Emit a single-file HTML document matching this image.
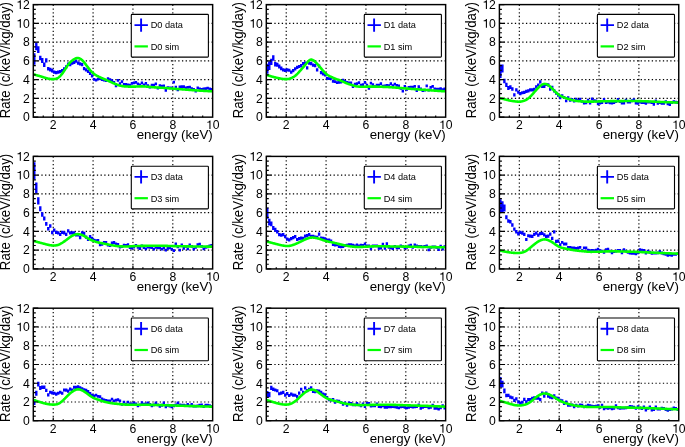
<!DOCTYPE html>
<html><head><meta charset="utf-8"><style>
html,body{margin:0;padding:0;background:#fff;}
svg{display:block;will-change:transform;}
</style></head><body>
<svg width="685" height="447" viewBox="0 0 685 447">
<rect width="685" height="447" fill="#fff"/>
<clipPath id="clip0"><rect x="33.30" y="4.60" width="179.35" height="112.55"/></clipPath>
<path d="M53.23 4.75V117.15M93.08 4.75V117.15M132.94 4.75V117.15M172.80 4.75V117.15M33.95 98.39H212.65M33.95 79.63H212.65M33.95 60.87H212.65M33.95 42.12H212.65M33.95 23.36H212.65" stroke="#000" stroke-width="1.15" stroke-dasharray="1.3 2.4" fill="none"/>
<g clip-path="url(#clip0)"><path d="M33.10 53.20H35.49V64.80H33.10ZM35.09 42.44H37.49V50.24H35.09ZM37.09 46.32H39.48V52.92H37.09ZM39.08 55.86H41.47V60.26H39.08ZM41.07 58.09H43.46V63.09H41.07ZM43.06 62.61H45.46V67.01H43.06ZM45.06 58.21H47.45V62.61H45.06ZM47.05 67.05H49.44V70.45H47.05ZM49.04 67.70H51.44V71.50H49.04ZM51.04 68.82H53.43V72.62H51.04ZM53.03 70.53H55.42V73.73H53.03ZM55.02 71.00H57.41V74.20H55.02ZM57.01 70.53H59.41V73.73H57.01ZM59.01 70.06H61.40V73.26H59.01ZM61.00 69.12H63.39V72.32H61.00ZM62.99 67.25H65.38V70.45H62.99ZM64.98 65.37H67.38V68.57H64.98ZM66.98 62.56H69.37V65.76H66.98ZM68.97 63.03H71.36V66.23H68.97ZM70.96 61.62H73.36V64.82H70.96ZM72.96 60.68H75.35V63.88H72.96ZM74.95 59.56H77.34V62.76H74.95ZM76.94 61.53H79.33V64.73H76.94ZM78.93 62.37H81.33V65.57H78.93ZM80.93 63.03H83.32V66.23H80.93ZM82.92 67.06H85.31V70.26H82.92ZM84.91 68.19H87.31V71.39H84.91ZM86.91 69.87H89.30V73.07H86.91ZM88.90 71.84H91.29V75.04H88.90ZM90.89 74.28H93.28V77.48H90.89ZM92.88 77.95H95.28V80.75H92.88ZM94.88 78.70H97.27V81.50H94.88ZM96.87 77.76H99.26V80.56H96.87ZM98.86 77.30H101.26V80.10H98.86ZM100.86 78.23H103.25V81.03H100.86ZM102.85 78.70H105.24V81.50H102.85ZM104.84 79.17H107.23V81.97H104.84ZM106.83 77.30H109.23V80.10H106.83ZM108.83 78.23H111.22V81.03H108.83ZM110.82 79.17H113.21V81.97H110.82ZM112.81 81.05H115.20V83.85H112.81ZM114.80 84.33H117.20V87.13H114.80ZM116.80 78.98H119.19V81.78H116.80ZM118.79 82.36H121.18V85.16H118.79ZM120.78 80.30H123.18V83.10H120.78ZM122.78 82.92H125.17V85.72H122.78ZM124.77 83.11H127.16V85.91H124.77ZM126.76 83.39H129.15V86.19H126.76ZM128.75 83.86H131.15V86.66H128.75ZM130.75 81.98H133.14V84.78H130.75ZM132.74 81.52H135.13V84.32H132.74ZM134.73 81.05H137.13V83.85H134.73ZM136.73 82.45H139.12V85.25H136.73ZM138.72 83.39H141.11V86.19H138.72ZM140.71 81.52H143.10V84.32H140.71ZM142.70 83.39H145.10V86.19H142.70ZM144.70 81.98H147.09V84.78H144.70ZM146.69 84.14H149.08V86.94H146.69ZM148.68 85.74H151.08V88.54H148.68ZM150.68 83.67H153.07V86.47H150.68ZM152.67 83.67H155.06V86.47H152.67ZM154.66 82.45H157.05V85.25H154.66ZM156.65 86.67H159.05V89.47H156.65ZM158.65 84.33H161.04V87.13H158.65ZM160.64 84.80H163.03V87.60H160.64ZM162.63 84.52H165.02V87.32H162.63ZM164.62 89.02H167.02V91.82H164.62ZM166.62 86.21H169.01V89.01H166.62ZM168.61 86.49H171.00V89.29H168.61ZM170.60 86.49H173.00V89.29H170.60ZM172.60 80.77H174.99V83.57H172.60ZM174.59 85.74H176.98V88.54H174.59ZM176.58 88.55H178.97V91.35H176.58ZM178.57 85.55H180.97V88.35H178.57ZM180.57 85.27H182.96V88.07H180.57ZM182.56 85.27H184.95V88.07H182.56ZM184.55 86.49H186.95V89.29H184.55ZM186.55 85.92H188.94V88.72H186.55ZM188.54 85.74H190.93V88.54H188.54ZM190.53 87.14H192.92V89.94H190.53ZM192.52 88.08H194.92V90.88H192.52ZM194.52 89.68H196.91V92.48H194.52ZM196.51 86.49H198.90V89.29H196.51ZM198.50 87.61H200.90V90.41H198.50ZM200.50 87.89H202.89V90.69H200.50ZM202.49 87.61H204.88V90.41H202.49ZM204.48 87.14H206.87V89.94H204.48ZM206.47 86.67H208.87V89.47H206.47ZM208.47 87.61H210.86V90.41H208.47ZM210.46 88.08H212.85V90.88H210.46Z" fill="#0000ff"/>
<polyline points="33.30,74.29 33.70,74.40 34.10,74.51 34.50,74.62 34.89,74.73 35.29,74.84 35.69,74.95 36.09,75.07 36.49,75.18 36.89,75.29 37.29,75.41 37.68,75.52 38.08,75.64 38.48,75.75 38.88,75.87 39.28,75.99 39.68,76.11 40.08,76.22 40.47,76.34 40.87,76.46 41.27,76.58 41.67,76.71 42.07,76.83 42.47,76.95 42.87,77.07 43.26,77.19 43.66,77.32 44.06,77.44 44.46,77.56 44.86,77.68 45.26,77.80 45.66,77.92 46.05,78.03 46.45,78.15 46.85,78.25 47.25,78.36 47.65,78.46 48.05,78.56 48.45,78.65 48.84,78.73 49.24,78.81 49.64,78.88 50.04,78.95 50.44,79.01 50.84,79.06 51.24,79.10 51.63,79.13 52.03,79.16 52.43,79.17 52.83,79.17 53.23,79.16 53.63,79.15 54.03,79.11 54.42,79.07 54.82,79.01 55.22,78.93 55.62,78.83 56.02,78.72 56.42,78.58 56.82,78.42 57.21,78.24 57.61,78.03 58.01,77.79 58.41,77.53 58.81,77.24 59.21,76.92 59.60,76.57 60.00,76.20 60.40,75.80 60.80,75.37 61.20,74.92 61.60,74.45 62.00,73.95 62.39,73.43 62.79,72.88 63.19,72.32 63.59,71.73 63.99,71.13 64.39,70.51 64.79,69.88 65.18,69.25 65.58,68.61 65.98,67.98 66.38,67.35 66.78,66.74 67.18,66.13 67.58,65.55 67.97,64.99 68.37,64.46 68.77,63.95 69.17,63.47 69.57,63.01 69.97,62.58 70.37,62.18 70.76,61.79 71.16,61.42 71.56,61.07 71.96,60.74 72.36,60.43 72.76,60.13 73.16,59.84 73.55,59.57 73.95,59.31 74.35,59.07 74.75,58.85 75.15,58.65 75.55,58.48 75.95,58.33 76.34,58.21 76.74,58.12 77.14,58.06 77.54,58.04 77.94,58.05 78.34,58.10 78.74,58.18 79.13,58.30 79.53,58.45 79.93,58.63 80.33,58.84 80.73,59.08 81.13,59.35 81.53,59.66 81.92,59.99 82.32,60.35 82.72,60.74 83.12,61.16 83.52,61.60 83.92,62.07 84.32,62.56 84.71,63.06 85.11,63.58 85.51,64.12 85.91,64.66 86.31,65.20 86.71,65.75 87.11,66.29 87.50,66.83 87.90,67.37 88.30,67.89 88.70,68.40 89.10,68.89 89.50,69.37 89.90,69.84 90.29,70.30 90.69,70.74 91.09,71.16 91.49,71.57 91.89,71.97 92.29,72.35 92.69,72.72 93.08,73.07 93.48,73.40 93.88,73.72 94.28,74.03 94.68,74.32 95.08,74.59 95.48,74.86 95.87,75.11 96.27,75.36 96.67,75.59 97.07,75.82 97.47,76.04 97.87,76.25 98.27,76.45 98.66,76.65 99.06,76.84 99.46,77.03 99.86,77.22 100.26,77.40 100.66,77.58 101.06,77.75 101.45,77.92 101.85,78.09 102.25,78.26 102.65,78.43 103.05,78.60 103.45,78.77 103.85,78.94 104.24,79.11 104.64,79.28 105.04,79.45 105.44,79.62 105.84,79.79 106.24,79.97 106.64,80.14 107.03,80.32 107.43,80.49 107.83,80.67 108.23,80.85 108.63,81.03 109.03,81.21 109.42,81.39 109.82,81.57 110.22,81.75 110.62,81.93 111.02,82.12 111.42,82.30 111.82,82.48 112.21,82.66 112.61,82.83 113.01,83.01 113.41,83.18 113.81,83.36 114.21,83.53 114.61,83.69 115.00,83.86 115.40,84.02 115.80,84.18 116.20,84.33 116.60,84.49 117.00,84.63 117.40,84.77 117.79,84.91 118.19,85.05 118.59,85.17 118.99,85.30 119.39,85.41 119.79,85.52 120.19,85.63 120.58,85.73 120.98,85.82 121.38,85.91 121.78,85.99 122.18,86.07 122.58,86.14 122.98,86.20 123.37,86.25 123.77,86.30 124.17,86.35 124.57,86.39 124.97,86.42 125.37,86.45 125.77,86.47 126.16,86.50 126.56,86.52 126.96,86.54 127.36,86.55 127.76,86.57 128.16,86.58 128.56,86.60 128.95,86.61 129.35,86.62 129.75,86.63 130.15,86.64 130.55,86.65 130.95,86.66 131.35,86.67 131.74,86.67 132.14,86.67 132.54,86.67 132.94,86.67 133.34,86.66 133.74,86.65 134.14,86.64 134.53,86.63 134.93,86.62 135.33,86.60 135.73,86.58 136.13,86.57 136.53,86.55 136.93,86.53 137.32,86.51 137.72,86.49 138.12,86.47 138.52,86.46 138.92,86.44 139.32,86.42 139.72,86.41 140.11,86.40 140.51,86.39 140.91,86.38 141.31,86.38 141.71,86.37 142.11,86.37 142.51,86.38 142.90,86.39 143.30,86.40 143.70,86.41 144.10,86.43 144.50,86.45 144.90,86.48 145.30,86.51 145.69,86.54 146.09,86.57 146.49,86.60 146.89,86.64 147.29,86.68 147.69,86.71 148.09,86.75 148.48,86.79 148.88,86.84 149.28,86.88 149.68,86.92 150.08,86.96 150.48,87.00 150.88,87.04 151.27,87.08 151.67,87.12 152.07,87.16 152.47,87.20 152.87,87.23 153.27,87.26 153.67,87.29 154.06,87.32 154.46,87.35 154.86,87.38 155.26,87.40 155.66,87.42 156.06,87.45 156.46,87.47 156.85,87.49 157.25,87.51 157.65,87.53 158.05,87.55 158.45,87.57 158.85,87.58 159.24,87.60 159.64,87.62 160.04,87.64 160.44,87.66 160.84,87.68 161.24,87.70 161.64,87.72 162.03,87.75 162.43,87.77 162.83,87.79 163.23,87.82 163.63,87.85 164.03,87.87 164.43,87.90 164.82,87.93 165.22,87.97 165.62,88.00 166.02,88.03 166.42,88.06 166.82,88.10 167.22,88.13 167.61,88.17 168.01,88.21 168.41,88.24 168.81,88.28 169.21,88.31 169.61,88.35 170.01,88.39 170.40,88.42 170.80,88.46 171.20,88.50 171.60,88.53 172.00,88.57 172.40,88.60 172.80,88.64 173.19,88.67 173.59,88.70 173.99,88.74 174.39,88.77 174.79,88.80 175.19,88.83 175.59,88.86 175.98,88.89 176.38,88.92 176.78,88.95 177.18,88.98 177.58,89.01 177.98,89.04 178.38,89.07 178.77,89.10 179.17,89.13 179.57,89.16 179.97,89.19 180.37,89.21 180.77,89.24 181.17,89.27 181.56,89.30 181.96,89.33 182.36,89.36 182.76,89.39 183.16,89.42 183.56,89.45 183.96,89.48 184.35,89.51 184.75,89.54 185.15,89.57 185.55,89.60 185.95,89.63 186.35,89.66 186.75,89.69 187.14,89.72 187.54,89.75 187.94,89.78 188.34,89.81 188.74,89.84 189.14,89.87 189.54,89.90 189.93,89.93 190.33,89.96 190.73,89.99 191.13,90.02 191.53,90.05 191.93,90.08 192.33,90.11 192.72,90.14 193.12,90.17 193.52,90.20 193.92,90.22 194.32,90.25 194.72,90.28 195.12,90.31 195.51,90.33 195.91,90.36 196.31,90.39 196.71,90.42 197.11,90.44 197.51,90.47 197.91,90.50 198.30,90.52 198.70,90.55 199.10,90.57 199.50,90.60 199.90,90.62 200.30,90.65 200.70,90.67 201.09,90.70 201.49,90.72 201.89,90.75 202.29,90.77 202.69,90.79 203.09,90.82 203.49,90.84 203.88,90.87 204.28,90.89 204.68,90.91 205.08,90.94 205.48,90.96 205.88,90.98 206.28,91.00 206.67,91.03 207.07,91.05 207.47,91.07 207.87,91.09 208.27,91.12 208.67,91.14 209.06,91.16 209.46,91.18 209.86,91.20 210.26,91.23 210.66,91.25 211.06,91.27 211.46,91.29 211.85,91.31 212.25,91.34 212.65,91.36" stroke="#00ff00" stroke-width="2.6" fill="none" stroke-linejoin="round"/></g>
<rect x="33.30" y="4.60" width="179.35" height="112.55" stroke="#000" stroke-width="1.45" fill="none"/>
<path d="M33.30 117.15h5.0M33.30 112.46h2.5M33.30 107.77h2.5M33.30 103.08h2.5M33.30 98.39h5.0M33.30 93.70h2.5M33.30 89.01h2.5M33.30 84.32h2.5M33.30 79.63h5.0M33.30 74.94h2.5M33.30 70.25h2.5M33.30 65.56h2.5M33.30 60.87h5.0M33.30 56.19h2.5M33.30 51.50h2.5M33.30 46.81h2.5M33.30 42.12h5.0M33.30 37.43h2.5M33.30 32.74h2.5M33.30 28.05h2.5M33.30 23.36h5.0M33.30 18.67h2.5M33.30 13.98h2.5M33.30 9.29h2.5M33.30 4.60h5.0M43.26 117.15v-1.6M53.23 117.15v-3.2M63.19 117.15v-1.6M73.16 117.15v-1.6M83.12 117.15v-1.6M93.08 117.15v-3.2M103.05 117.15v-1.6M113.01 117.15v-1.6M122.98 117.15v-1.6M132.94 117.15v-3.2M142.90 117.15v-1.6M152.87 117.15v-1.6M162.83 117.15v-1.6M172.80 117.15v-3.2M182.76 117.15v-1.6M192.72 117.15v-1.6M202.69 117.15v-1.6" stroke="#000" stroke-width="1.2" fill="none"/>
<text x="23.02" y="121.45" font-size="12.2" font-family="Liberation Sans, sans-serif">0</text>
<text x="23.02" y="102.69" font-size="12.2" font-family="Liberation Sans, sans-serif">2</text>
<text x="23.02" y="83.93" font-size="12.2" font-family="Liberation Sans, sans-serif">4</text>
<text x="23.02" y="65.17" font-size="12.2" font-family="Liberation Sans, sans-serif">6</text>
<text x="23.02" y="46.42" font-size="12.2" font-family="Liberation Sans, sans-serif">8</text>
<path transform="translate(16.23 27.66) scale(12.2 -12.2)" d="M0.290 0L0.378 0L0.378 0.703L0.306 0.703C0.290 0.628 0.228 0.592 0.105 0.588L0.105 0.527L0.290 0.527Z"/>
<text x="23.02" y="27.66" font-size="12.2" font-family="Liberation Sans, sans-serif">0</text>
<path transform="translate(16.23 8.90) scale(12.2 -12.2)" d="M0.290 0L0.378 0L0.378 0.703L0.306 0.703C0.290 0.628 0.228 0.592 0.105 0.588L0.105 0.527L0.290 0.527Z"/>
<text x="23.02" y="8.90" font-size="12.2" font-family="Liberation Sans, sans-serif">2</text>
<text x="49.84" y="129.05" font-size="12.2" font-family="Liberation Sans, sans-serif">2</text>
<text x="89.69" y="129.05" font-size="12.2" font-family="Liberation Sans, sans-serif">4</text>
<text x="129.55" y="129.05" font-size="12.2" font-family="Liberation Sans, sans-serif">6</text>
<text x="169.40" y="129.05" font-size="12.2" font-family="Liberation Sans, sans-serif">8</text>
<path transform="translate(205.87 129.05) scale(12.2 -12.2)" d="M0.290 0L0.378 0L0.378 0.703L0.306 0.703C0.290 0.628 0.228 0.592 0.105 0.588L0.105 0.527L0.290 0.527Z"/>
<text x="212.65" y="129.05" font-size="12.2" font-family="Liberation Sans, sans-serif">0</text>
<text x="212.75" y="139.35" text-anchor="end" font-size="13.3" font-family="Liberation Sans, sans-serif">energy (keV)</text>
<text transform="translate(9.80 2.00) rotate(-90) scale(1 1.07)" text-anchor="end" font-size="13.25" font-family="Liberation Sans, sans-serif">Rate (c/keV/kg/day)</text>
<rect x="131.30" y="14.40" width="77.10" height="42.70" rx="0.8" fill="#fff" stroke="#000" stroke-width="1.1"/>
<path d="M134.50 25.10h13.4M141.10 18.50v13.2" stroke="#0000ff" stroke-width="1.9" fill="none"/>
<path d="M134.50 46.40h13.4" stroke="#00ff00" stroke-width="2.2" fill="none"/>
<text x="150.70" y="28.00" font-size="9.2" font-family="Liberation Sans, sans-serif">D0 data</text>
<text x="150.70" y="49.80" font-size="9.2" font-family="Liberation Sans, sans-serif">D0 sim</text>
<clipPath id="clip1"><rect x="266.30" y="4.60" width="179.35" height="112.55"/></clipPath>
<path d="M286.23 4.75V117.15M326.08 4.75V117.15M365.94 4.75V117.15M405.80 4.75V117.15M266.95 98.39H445.65M266.95 79.63H445.65M266.95 60.87H445.65M266.95 42.12H445.65M266.95 23.36H445.65" stroke="#000" stroke-width="1.15" stroke-dasharray="1.3 2.4" fill="none"/>
<g clip-path="url(#clip1)"><path d="M266.10 63.75H268.49V73.75H266.10ZM268.09 61.16H270.49V69.96H268.09ZM270.09 58.71H272.48V64.91H270.09ZM272.08 55.26H274.47V60.86H272.08ZM274.07 62.05H276.46V66.45H274.07ZM276.06 62.63H278.46V66.63H276.06ZM278.06 64.50H280.45V68.50H278.06ZM280.05 66.58H282.44V70.18H280.05ZM282.04 68.19H284.44V71.39H282.04ZM284.04 68.84H286.43V72.04H284.04ZM286.03 68.19H288.42V71.39H286.03ZM288.02 68.65H290.41V71.85H288.02ZM290.01 70.53H292.41V73.73H290.01ZM292.01 69.12H294.40V72.32H292.01ZM294.00 67.25H296.39V70.45H294.00ZM295.99 65.84H298.38V69.04H295.99ZM297.98 64.90H300.38V68.10H297.98ZM299.98 63.96H302.37V67.16H299.98ZM301.97 62.09H304.36V65.29H301.97ZM303.96 61.62H306.36V64.82H303.96ZM305.96 66.31H308.35V69.51H305.96ZM307.95 61.53H310.34V64.73H307.95ZM309.94 62.09H312.33V65.29H309.94ZM311.93 63.50H314.33V66.70H311.93ZM313.93 63.96H316.32V67.16H313.93ZM315.92 68.28H318.31V71.48H315.92ZM317.91 64.43H320.31V67.63H317.91ZM319.91 71.00H322.30V74.20H319.91ZM321.90 72.22H324.29V75.42H321.90ZM323.89 73.34H326.28V76.54H323.89ZM325.88 77.01H328.28V79.81H325.88ZM327.88 77.30H330.27V80.10H327.88ZM329.87 76.83H332.26V79.63H329.87ZM331.86 79.83H334.26V82.63H331.86ZM333.86 80.30H336.25V83.10H333.86ZM335.85 81.23H338.24V84.03H335.85ZM337.84 80.86H340.23V83.66H337.84ZM339.83 80.58H342.23V83.38H339.83ZM341.83 78.70H344.22V81.50H341.83ZM343.82 80.11H346.21V82.91H343.82ZM345.81 81.05H348.20V83.85H345.81ZM347.80 81.52H350.20V84.32H347.80ZM349.80 81.52H352.19V84.32H349.80ZM351.79 85.27H354.18V88.07H351.79ZM353.78 82.74H356.18V85.54H353.78ZM355.78 82.27H358.17V85.07H355.78ZM357.77 81.23H360.16V84.03H357.77ZM359.76 83.67H362.15V86.47H359.76ZM361.75 83.30H364.15V86.10H361.75ZM363.75 81.05H366.14V83.85H363.75ZM365.74 83.67H368.13V86.47H365.74ZM367.73 87.05H370.13V89.85H367.73ZM369.73 81.80H372.12V84.60H369.73ZM371.72 83.30H374.11V86.10H371.72ZM373.71 84.99H376.10V87.79H373.71ZM375.70 83.67H378.10V86.47H375.70ZM377.70 83.86H380.09V86.66H377.70ZM379.69 82.17H382.08V84.97H379.69ZM381.68 84.80H384.08V87.60H381.68ZM383.68 84.52H386.07V87.32H383.68ZM385.67 84.05H388.06V86.85H385.67ZM387.66 84.33H390.05V87.13H387.66ZM389.65 82.36H392.05V85.16H389.65ZM391.65 84.33H394.04V87.13H391.65ZM393.64 82.64H396.03V85.44H393.64ZM395.63 84.05H398.02V86.85H395.63ZM397.62 84.52H400.02V87.32H397.62ZM399.62 86.96H402.01V89.76H399.62ZM401.61 89.58H404.00V92.38H401.61ZM403.60 84.99H406.00V87.79H403.60ZM405.60 87.99H407.99V90.79H405.60ZM407.59 86.11H409.98V88.91H407.59ZM409.58 85.64H411.97V88.44H409.58ZM411.57 85.64H413.97V88.44H411.57ZM413.57 84.99H415.96V87.79H413.57ZM415.56 89.11H417.95V91.91H415.56ZM417.55 85.17H419.95V87.97H417.55ZM419.55 87.42H421.94V90.22H419.55ZM421.54 89.11H423.93V91.91H421.54ZM423.53 88.74H425.92V91.54H423.53ZM425.52 84.52H427.92V87.32H425.52ZM427.52 88.74H429.91V91.54H427.52ZM429.51 85.92H431.90V88.72H429.51ZM431.50 84.99H433.90V87.79H431.50ZM433.50 87.42H435.89V90.22H433.50ZM435.49 87.80H437.88V90.60H435.49ZM437.48 87.80H439.87V90.60H437.48ZM439.47 87.24H441.87V90.04H439.47ZM441.47 88.27H443.86V91.07H441.47ZM443.46 87.61H445.85V90.41H443.46Z" fill="#0000ff"/>
<polyline points="266.30,74.85 266.70,74.97 267.10,75.10 267.50,75.22 267.89,75.34 268.29,75.46 268.69,75.58 269.09,75.70 269.49,75.82 269.89,75.94 270.29,76.06 270.68,76.18 271.08,76.29 271.48,76.41 271.88,76.52 272.28,76.63 272.68,76.74 273.08,76.85 273.47,76.96 273.87,77.06 274.27,77.17 274.67,77.27 275.07,77.37 275.47,77.47 275.87,77.57 276.26,77.66 276.66,77.76 277.06,77.85 277.46,77.94 277.86,78.03 278.26,78.11 278.66,78.20 279.05,78.28 279.45,78.36 279.85,78.44 280.25,78.52 280.65,78.59 281.05,78.66 281.45,78.73 281.84,78.80 282.24,78.86 282.64,78.92 283.04,78.97 283.44,79.02 283.84,79.06 284.24,79.10 284.63,79.13 285.03,79.15 285.43,79.17 285.83,79.17 286.23,79.16 286.63,79.15 287.03,79.12 287.42,79.08 287.82,79.04 288.22,78.98 288.62,78.90 289.02,78.82 289.42,78.72 289.82,78.62 290.21,78.49 290.61,78.36 291.01,78.21 291.41,78.05 291.81,77.88 292.21,77.69 292.60,77.48 293.00,77.26 293.40,77.03 293.80,76.78 294.20,76.52 294.60,76.23 295.00,75.94 295.39,75.62 295.79,75.29 296.19,74.94 296.59,74.58 296.99,74.20 297.39,73.80 297.79,73.39 298.18,72.97 298.58,72.54 298.98,72.10 299.38,71.65 299.78,71.20 300.18,70.74 300.58,70.29 300.97,69.83 301.37,69.37 301.77,68.91 302.17,68.45 302.57,68.00 302.97,67.54 303.37,67.08 303.76,66.62 304.16,66.16 304.56,65.69 304.96,65.22 305.36,64.75 305.76,64.27 306.16,63.78 306.55,63.29 306.95,62.80 307.35,62.32 307.75,61.86 308.15,61.42 308.55,61.01 308.95,60.64 309.34,60.32 309.74,60.05 310.14,59.84 310.54,59.70 310.94,59.63 311.34,59.62 311.74,59.66 312.13,59.76 312.53,59.90 312.93,60.09 313.33,60.32 313.73,60.59 314.13,60.89 314.53,61.22 314.92,61.58 315.32,61.95 315.72,62.35 316.12,62.75 316.52,63.17 316.92,63.59 317.32,64.02 317.71,64.45 318.11,64.90 318.51,65.35 318.91,65.80 319.31,66.26 319.71,66.73 320.11,67.19 320.50,67.67 320.90,68.14 321.30,68.62 321.70,69.09 322.10,69.57 322.50,70.04 322.90,70.51 323.29,70.97 323.69,71.42 324.09,71.86 324.49,72.29 324.89,72.70 325.29,73.09 325.69,73.47 326.08,73.82 326.48,74.15 326.88,74.45 327.28,74.74 327.68,75.01 328.08,75.26 328.48,75.50 328.87,75.73 329.27,75.94 329.67,76.15 330.07,76.34 330.47,76.54 330.87,76.73 331.27,76.91 331.66,77.10 332.06,77.28 332.46,77.47 332.86,77.65 333.26,77.83 333.66,78.00 334.06,78.17 334.45,78.34 334.85,78.51 335.25,78.67 335.65,78.83 336.05,78.98 336.45,79.12 336.85,79.27 337.24,79.40 337.64,79.54 338.04,79.68 338.44,79.81 338.84,79.95 339.24,80.09 339.64,80.23 340.03,80.37 340.43,80.52 340.83,80.68 341.23,80.84 341.63,81.01 342.03,81.19 342.42,81.36 342.82,81.55 343.22,81.73 343.62,81.92 344.02,82.11 344.42,82.29 344.82,82.48 345.21,82.66 345.61,82.84 346.01,83.01 346.41,83.18 346.81,83.34 347.21,83.49 347.61,83.64 348.00,83.79 348.40,83.93 348.80,84.07 349.20,84.20 349.60,84.34 350.00,84.47 350.40,84.60 350.79,84.73 351.19,84.86 351.59,84.98 351.99,85.11 352.39,85.23 352.79,85.36 353.19,85.48 353.58,85.59 353.98,85.71 354.38,85.82 354.78,85.92 355.18,86.02 355.58,86.11 355.98,86.20 356.37,86.28 356.77,86.35 357.17,86.42 357.57,86.48 357.97,86.53 358.37,86.58 358.77,86.63 359.16,86.66 359.56,86.69 359.96,86.72 360.36,86.74 360.76,86.76 361.16,86.77 361.56,86.77 361.95,86.77 362.35,86.77 362.75,86.77 363.15,86.76 363.55,86.75 363.95,86.73 364.35,86.72 364.74,86.71 365.14,86.69 365.54,86.68 365.94,86.67 366.34,86.66 366.74,86.65 367.14,86.64 367.53,86.63 367.93,86.62 368.33,86.62 368.73,86.61 369.13,86.61 369.53,86.61 369.93,86.61 370.32,86.61 370.72,86.61 371.12,86.61 371.52,86.61 371.92,86.61 372.32,86.62 372.72,86.62 373.11,86.63 373.51,86.63 373.91,86.64 374.31,86.64 374.71,86.65 375.11,86.65 375.51,86.66 375.90,86.67 376.30,86.67 376.70,86.68 377.10,86.69 377.50,86.70 377.90,86.70 378.30,86.71 378.69,86.72 379.09,86.73 379.49,86.74 379.89,86.75 380.29,86.76 380.69,86.77 381.09,86.78 381.48,86.79 381.88,86.80 382.28,86.81 382.68,86.83 383.08,86.84 383.48,86.85 383.88,86.87 384.27,86.88 384.67,86.90 385.07,86.91 385.47,86.93 385.87,86.95 386.27,86.97 386.67,86.99 387.06,87.01 387.46,87.03 387.86,87.05 388.26,87.07 388.66,87.10 389.06,87.12 389.46,87.14 389.85,87.17 390.25,87.19 390.65,87.22 391.05,87.25 391.45,87.27 391.85,87.30 392.24,87.33 392.64,87.36 393.04,87.39 393.44,87.42 393.84,87.45 394.24,87.48 394.64,87.51 395.03,87.54 395.43,87.57 395.83,87.61 396.23,87.64 396.63,87.67 397.03,87.70 397.43,87.74 397.82,87.77 398.22,87.80 398.62,87.84 399.02,87.87 399.42,87.91 399.82,87.94 400.22,87.98 400.61,88.01 401.01,88.04 401.41,88.08 401.81,88.11 402.21,88.15 402.61,88.18 403.01,88.22 403.40,88.25 403.80,88.28 404.20,88.32 404.60,88.35 405.00,88.38 405.40,88.42 405.80,88.45 406.19,88.48 406.59,88.51 406.99,88.55 407.39,88.58 407.79,88.61 408.19,88.64 408.59,88.67 408.98,88.70 409.38,88.73 409.78,88.76 410.18,88.79 410.58,88.82 410.98,88.85 411.38,88.88 411.77,88.91 412.17,88.94 412.57,88.97 412.97,89.00 413.37,89.03 413.77,89.05 414.17,89.08 414.56,89.11 414.96,89.14 415.36,89.17 415.76,89.20 416.16,89.23 416.56,89.26 416.96,89.29 417.35,89.32 417.75,89.35 418.15,89.38 418.55,89.41 418.95,89.44 419.35,89.47 419.75,89.50 420.14,89.53 420.54,89.56 420.94,89.59 421.34,89.62 421.74,89.65 422.14,89.68 422.54,89.71 422.93,89.74 423.33,89.77 423.73,89.80 424.13,89.83 424.53,89.86 424.93,89.89 425.33,89.92 425.72,89.95 426.12,89.98 426.52,90.01 426.92,90.04 427.32,90.07 427.72,90.10 428.12,90.13 428.51,90.17 428.91,90.20 429.31,90.23 429.71,90.26 430.11,90.29 430.51,90.32 430.91,90.35 431.30,90.38 431.70,90.41 432.10,90.44 432.50,90.47 432.90,90.50 433.30,90.53 433.70,90.56 434.09,90.59 434.49,90.62 434.89,90.64 435.29,90.67 435.69,90.70 436.09,90.73 436.49,90.76 436.88,90.78 437.28,90.81 437.68,90.84 438.08,90.87 438.48,90.89 438.88,90.92 439.28,90.95 439.67,90.97 440.07,91.00 440.47,91.03 440.87,91.05 441.27,91.08 441.67,91.10 442.06,91.13 442.46,91.15 442.86,91.18 443.26,91.21 443.66,91.23 444.06,91.26 444.46,91.28 444.85,91.31 445.25,91.33 445.65,91.36" stroke="#00ff00" stroke-width="2.6" fill="none" stroke-linejoin="round"/></g>
<rect x="266.30" y="4.60" width="179.35" height="112.55" stroke="#000" stroke-width="1.45" fill="none"/>
<path d="M266.30 117.15h5.0M266.30 112.46h2.5M266.30 107.77h2.5M266.30 103.08h2.5M266.30 98.39h5.0M266.30 93.70h2.5M266.30 89.01h2.5M266.30 84.32h2.5M266.30 79.63h5.0M266.30 74.94h2.5M266.30 70.25h2.5M266.30 65.56h2.5M266.30 60.87h5.0M266.30 56.19h2.5M266.30 51.50h2.5M266.30 46.81h2.5M266.30 42.12h5.0M266.30 37.43h2.5M266.30 32.74h2.5M266.30 28.05h2.5M266.30 23.36h5.0M266.30 18.67h2.5M266.30 13.98h2.5M266.30 9.29h2.5M266.30 4.60h5.0M276.26 117.15v-1.6M286.23 117.15v-3.2M296.19 117.15v-1.6M306.16 117.15v-1.6M316.12 117.15v-1.6M326.08 117.15v-3.2M336.05 117.15v-1.6M346.01 117.15v-1.6M355.98 117.15v-1.6M365.94 117.15v-3.2M375.90 117.15v-1.6M385.87 117.15v-1.6M395.83 117.15v-1.6M405.80 117.15v-3.2M415.76 117.15v-1.6M425.72 117.15v-1.6M435.69 117.15v-1.6" stroke="#000" stroke-width="1.2" fill="none"/>
<text x="256.02" y="121.45" font-size="12.2" font-family="Liberation Sans, sans-serif">0</text>
<text x="256.02" y="102.69" font-size="12.2" font-family="Liberation Sans, sans-serif">2</text>
<text x="256.02" y="83.93" font-size="12.2" font-family="Liberation Sans, sans-serif">4</text>
<text x="256.02" y="65.17" font-size="12.2" font-family="Liberation Sans, sans-serif">6</text>
<text x="256.02" y="46.42" font-size="12.2" font-family="Liberation Sans, sans-serif">8</text>
<path transform="translate(249.23 27.66) scale(12.2 -12.2)" d="M0.290 0L0.378 0L0.378 0.703L0.306 0.703C0.290 0.628 0.228 0.592 0.105 0.588L0.105 0.527L0.290 0.527Z"/>
<text x="256.02" y="27.66" font-size="12.2" font-family="Liberation Sans, sans-serif">0</text>
<path transform="translate(249.23 8.90) scale(12.2 -12.2)" d="M0.290 0L0.378 0L0.378 0.703L0.306 0.703C0.290 0.628 0.228 0.592 0.105 0.588L0.105 0.527L0.290 0.527Z"/>
<text x="256.02" y="8.90" font-size="12.2" font-family="Liberation Sans, sans-serif">2</text>
<text x="282.84" y="129.05" font-size="12.2" font-family="Liberation Sans, sans-serif">2</text>
<text x="322.69" y="129.05" font-size="12.2" font-family="Liberation Sans, sans-serif">4</text>
<text x="362.55" y="129.05" font-size="12.2" font-family="Liberation Sans, sans-serif">6</text>
<text x="402.40" y="129.05" font-size="12.2" font-family="Liberation Sans, sans-serif">8</text>
<path transform="translate(438.87 129.05) scale(12.2 -12.2)" d="M0.290 0L0.378 0L0.378 0.703L0.306 0.703C0.290 0.628 0.228 0.592 0.105 0.588L0.105 0.527L0.290 0.527Z"/>
<text x="445.65" y="129.05" font-size="12.2" font-family="Liberation Sans, sans-serif">0</text>
<text x="445.75" y="139.35" text-anchor="end" font-size="13.3" font-family="Liberation Sans, sans-serif">energy (keV)</text>
<text transform="translate(242.80 2.00) rotate(-90) scale(1 1.07)" text-anchor="end" font-size="13.25" font-family="Liberation Sans, sans-serif">Rate (c/keV/kg/day)</text>
<rect x="364.30" y="14.40" width="77.10" height="42.70" rx="0.8" fill="#fff" stroke="#000" stroke-width="1.1"/>
<path d="M367.50 25.10h13.4M374.10 18.50v13.2" stroke="#0000ff" stroke-width="1.9" fill="none"/>
<path d="M367.50 46.40h13.4" stroke="#00ff00" stroke-width="2.2" fill="none"/>
<text x="383.70" y="28.00" font-size="9.2" font-family="Liberation Sans, sans-serif">D1 data</text>
<text x="383.70" y="49.80" font-size="9.2" font-family="Liberation Sans, sans-serif">D1 sim</text>
<clipPath id="clip2"><rect x="499.40" y="4.60" width="179.35" height="112.55"/></clipPath>
<path d="M519.33 4.75V117.15M559.18 4.75V117.15M599.04 4.75V117.15M638.90 4.75V117.15M500.05 98.39H678.75M500.05 79.63H678.75M500.05 60.87H678.75M500.05 42.12H678.75M500.05 23.36H678.75" stroke="#000" stroke-width="1.15" stroke-dasharray="1.3 2.4" fill="none"/>
<g clip-path="url(#clip2)"><path d="M499.20 64.49H501.59V77.89H499.20ZM501.19 64.47H503.59V72.47H501.19ZM503.19 78.65H505.58V83.25H503.19ZM505.18 82.69H507.57V87.09H505.18ZM507.17 85.98H509.56V89.98H507.17ZM509.16 85.34H511.56V88.94H509.16ZM511.16 87.31H513.55V90.71H511.16ZM513.15 93.22H515.54V96.62H513.15ZM515.14 88.35H517.54V91.55H515.14ZM517.14 90.80H519.53V93.80H517.14ZM519.13 92.10H521.52V95.30H519.13ZM521.12 91.16H523.51V94.36H521.12ZM523.11 90.70H525.51V93.90H523.11ZM525.11 89.76H527.50V92.96H525.11ZM527.10 89.29H529.49V92.49H527.10ZM529.09 88.35H531.48V91.55H529.09ZM531.08 88.35H533.48V91.55H531.08ZM533.08 87.69H535.47V90.89H533.08ZM535.07 85.35H537.46V88.55H535.07ZM537.06 83.38H539.46V86.58H537.06ZM539.06 80.28H541.45V83.48H539.06ZM541.05 84.88H543.44V88.08H541.05ZM543.04 84.88H545.43V88.08H543.04ZM545.03 82.91H547.43V86.11H545.03ZM547.03 83.19H549.42V86.39H547.03ZM549.02 87.51H551.41V90.71H549.02ZM551.01 85.72H553.41V88.92H551.01ZM553.01 89.29H555.40V92.49H553.01ZM555.00 91.45H557.39V94.65H555.00ZM556.99 93.51H559.38V96.71H556.99ZM558.98 96.34H561.38V99.14H558.98ZM560.98 94.18H563.37V96.98H560.98ZM562.97 96.05H565.36V98.85H562.97ZM564.96 99.43H567.36V102.23H564.96ZM566.96 96.15H569.35V98.95H566.96ZM568.95 99.06H571.34V101.86H568.95ZM570.94 98.12H573.33V100.92H570.94ZM572.93 99.81H575.33V102.61H572.93ZM574.93 97.74H577.32V100.54H574.93ZM576.92 99.06H579.31V101.86H576.92ZM578.91 97.84H581.30V100.64H578.91ZM580.90 99.90H583.30V102.70H580.90ZM582.90 101.68H585.29V104.48H582.90ZM584.89 101.49H587.28V104.29H584.89ZM586.88 98.68H589.28V101.48H586.88ZM588.88 101.68H591.27V104.48H588.88ZM590.87 97.55H593.26V100.35H590.87ZM592.86 99.34H595.25V102.14H592.86ZM594.85 99.62H597.25V102.42H594.85ZM596.85 102.34H599.24V105.14H596.85ZM598.84 101.68H601.23V104.48H598.84ZM600.83 101.21H603.23V104.01H600.83ZM602.83 98.02H605.22V100.82H602.83ZM604.82 101.12H607.21V103.92H604.82ZM606.81 100.74H609.20V103.54H606.81ZM608.80 101.40H611.20V104.20H608.80ZM610.80 101.68H613.19V104.48H610.80ZM612.79 101.12H615.18V103.92H612.79ZM614.78 100.27H617.18V103.07H614.78ZM616.78 98.02H619.17V100.82H616.78ZM618.77 100.27H621.16V103.07H618.77ZM620.76 101.59H623.15V104.39H620.76ZM622.75 101.59H625.15V104.39H622.75ZM624.75 98.68H627.14V101.48H624.75ZM626.74 100.74H629.13V103.54H626.74ZM628.73 100.74H631.12V103.54H628.73ZM630.72 99.34H633.12V102.14H630.72ZM632.72 98.21H635.11V101.01H632.72ZM634.71 101.59H637.10V104.39H634.71ZM636.70 101.96H639.10V104.76H636.70ZM638.70 100.74H641.09V103.54H638.70ZM640.69 101.12H643.08V103.92H640.69ZM642.68 101.12H645.07V103.92H642.68ZM644.67 101.96H647.07V104.76H644.67ZM646.67 100.74H649.06V103.54H646.67ZM648.66 100.74H651.05V103.54H648.66ZM650.65 101.12H653.05V103.92H650.65ZM652.65 102.90H655.04V105.70H652.65ZM654.64 99.52H657.03V102.32H654.64ZM656.63 101.96H659.02V104.76H656.63ZM658.62 101.12H661.02V103.92H658.62ZM660.62 101.87H663.01V104.67H660.62ZM662.61 101.96H665.00V104.76H662.61ZM664.60 100.27H667.00V103.07H664.60ZM666.60 102.34H668.99V105.14H666.60ZM668.59 103.09H670.98V105.89H668.59ZM670.58 101.12H672.97V103.92H670.58ZM672.57 100.27H674.97V103.07H672.57ZM674.57 100.74H676.96V103.54H674.57ZM676.56 101.12H678.95V103.92H676.56Z" fill="#0000ff"/>
<polyline points="499.40,98.11 499.80,98.20 500.20,98.28 500.60,98.37 500.99,98.46 501.39,98.54 501.79,98.63 502.19,98.72 502.59,98.81 502.99,98.90 503.39,99.00 503.78,99.09 504.18,99.19 504.58,99.28 504.98,99.38 505.38,99.48 505.78,99.59 506.18,99.69 506.57,99.79 506.97,99.89 507.37,99.99 507.77,100.09 508.17,100.18 508.57,100.28 508.97,100.37 509.36,100.46 509.76,100.54 510.16,100.62 510.56,100.70 510.96,100.77 511.36,100.84 511.76,100.91 512.15,100.97 512.55,101.04 512.95,101.10 513.35,101.16 513.75,101.21 514.15,101.27 514.55,101.33 514.94,101.38 515.34,101.43 515.74,101.48 516.14,101.53 516.54,101.57 516.94,101.60 517.34,101.63 517.73,101.66 518.13,101.67 518.53,101.68 518.93,101.68 519.33,101.67 519.73,101.66 520.13,101.63 520.52,101.59 520.92,101.53 521.32,101.47 521.72,101.40 522.12,101.32 522.52,101.22 522.92,101.11 523.31,100.99 523.71,100.86 524.11,100.72 524.51,100.56 524.91,100.39 525.31,100.21 525.70,100.02 526.10,99.81 526.50,99.58 526.90,99.34 527.30,99.08 527.70,98.81 528.10,98.52 528.49,98.21 528.89,97.89 529.29,97.55 529.69,97.19 530.09,96.81 530.49,96.41 530.89,96.01 531.28,95.59 531.68,95.15 532.08,94.71 532.48,94.27 532.88,93.81 533.28,93.36 533.68,92.89 534.07,92.43 534.47,91.97 534.87,91.51 535.27,91.05 535.67,90.60 536.07,90.15 536.47,89.71 536.86,89.27 537.26,88.84 537.66,88.43 538.06,88.02 538.46,87.62 538.86,87.23 539.26,86.86 539.65,86.49 540.05,86.15 540.45,85.82 540.85,85.52 541.25,85.23 541.65,84.97 542.05,84.73 542.44,84.52 542.84,84.33 543.24,84.18 543.64,84.06 544.04,83.98 544.44,83.93 544.84,83.92 545.23,83.94 545.63,83.99 546.03,84.08 546.43,84.20 546.83,84.36 547.23,84.54 547.63,84.74 548.02,84.98 548.42,85.24 548.82,85.52 549.22,85.82 549.62,86.15 550.02,86.50 550.42,86.86 550.81,87.23 551.21,87.62 551.61,88.02 552.01,88.43 552.41,88.84 552.81,89.26 553.21,89.67 553.60,90.09 554.00,90.50 554.40,90.90 554.80,91.30 555.20,91.69 555.60,92.07 556.00,92.44 556.39,92.80 556.79,93.15 557.19,93.49 557.59,93.82 557.99,94.14 558.39,94.45 558.79,94.74 559.18,95.02 559.58,95.28 559.98,95.53 560.38,95.77 560.78,95.99 561.18,96.21 561.58,96.41 561.97,96.61 562.37,96.79 562.77,96.97 563.17,97.14 563.57,97.31 563.97,97.47 564.37,97.62 564.76,97.78 565.16,97.92 565.56,98.07 565.96,98.21 566.36,98.34 566.76,98.48 567.16,98.61 567.55,98.74 567.95,98.86 568.35,98.99 568.75,99.11 569.15,99.24 569.55,99.36 569.95,99.48 570.34,99.59 570.74,99.71 571.14,99.82 571.54,99.93 571.94,100.04 572.34,100.14 572.74,100.24 573.13,100.33 573.53,100.42 573.93,100.51 574.33,100.59 574.73,100.66 575.13,100.73 575.52,100.79 575.92,100.85 576.32,100.91 576.72,100.96 577.12,101.00 577.52,101.05 577.92,101.09 578.31,101.13 578.71,101.17 579.11,101.21 579.51,101.24 579.91,101.27 580.31,101.31 580.71,101.34 581.10,101.37 581.50,101.40 581.90,101.42 582.30,101.45 582.70,101.47 583.10,101.50 583.50,101.52 583.89,101.54 584.29,101.56 584.69,101.58 585.09,101.59 585.49,101.61 585.89,101.62 586.29,101.63 586.68,101.64 587.08,101.65 587.48,101.66 587.88,101.67 588.28,101.67 588.68,101.67 589.08,101.67 589.47,101.67 589.87,101.67 590.27,101.67 590.67,101.66 591.07,101.66 591.47,101.65 591.87,101.64 592.26,101.63 592.66,101.62 593.06,101.61 593.46,101.60 593.86,101.58 594.26,101.57 594.66,101.56 595.05,101.54 595.45,101.53 595.85,101.51 596.25,101.50 596.65,101.48 597.05,101.47 597.45,101.45 597.84,101.44 598.24,101.42 598.64,101.41 599.04,101.39 599.44,101.38 599.84,101.37 600.24,101.35 600.63,101.34 601.03,101.33 601.43,101.32 601.83,101.31 602.23,101.30 602.63,101.29 603.03,101.28 603.42,101.27 603.82,101.26 604.22,101.26 604.62,101.25 605.02,101.24 605.42,101.23 605.82,101.23 606.21,101.22 606.61,101.21 607.01,101.21 607.41,101.20 607.81,101.20 608.21,101.19 608.61,101.19 609.00,101.18 609.40,101.18 609.80,101.18 610.20,101.17 610.60,101.17 611.00,101.16 611.40,101.16 611.79,101.16 612.19,101.16 612.59,101.15 612.99,101.15 613.39,101.15 613.79,101.14 614.19,101.14 614.58,101.14 614.98,101.14 615.38,101.13 615.78,101.13 616.18,101.13 616.58,101.13 616.98,101.12 617.37,101.12 617.77,101.12 618.17,101.12 618.57,101.11 618.97,101.11 619.37,101.11 619.77,101.11 620.16,101.10 620.56,101.10 620.96,101.10 621.36,101.09 621.76,101.09 622.16,101.09 622.56,101.08 622.95,101.08 623.35,101.08 623.75,101.08 624.15,101.07 624.55,101.07 624.95,101.07 625.34,101.06 625.74,101.06 626.14,101.06 626.54,101.06 626.94,101.06 627.34,101.05 627.74,101.05 628.13,101.05 628.53,101.05 628.93,101.05 629.33,101.05 629.73,101.04 630.13,101.04 630.53,101.04 630.92,101.04 631.32,101.04 631.72,101.04 632.12,101.04 632.52,101.05 632.92,101.05 633.32,101.05 633.71,101.05 634.11,101.05 634.51,101.06 634.91,101.06 635.31,101.06 635.71,101.07 636.11,101.07 636.50,101.07 636.90,101.08 637.30,101.08 637.70,101.09 638.10,101.10 638.50,101.10 638.90,101.11 639.29,101.12 639.69,101.13 640.09,101.14 640.49,101.15 640.89,101.16 641.29,101.17 641.69,101.18 642.08,101.19 642.48,101.20 642.88,101.21 643.28,101.22 643.68,101.24 644.08,101.25 644.48,101.26 644.87,101.28 645.27,101.29 645.67,101.30 646.07,101.32 646.47,101.33 646.87,101.35 647.27,101.36 647.66,101.38 648.06,101.40 648.46,101.41 648.86,101.43 649.26,101.44 649.66,101.46 650.06,101.48 650.45,101.49 650.85,101.51 651.25,101.53 651.65,101.55 652.05,101.56 652.45,101.58 652.85,101.60 653.24,101.62 653.64,101.63 654.04,101.65 654.44,101.67 654.84,101.69 655.24,101.70 655.64,101.72 656.03,101.74 656.43,101.76 656.83,101.78 657.23,101.79 657.63,101.81 658.03,101.83 658.43,101.84 658.82,101.86 659.22,101.88 659.62,101.90 660.02,101.91 660.42,101.93 660.82,101.95 661.22,101.96 661.61,101.98 662.01,101.99 662.41,102.01 662.81,102.03 663.21,102.04 663.61,102.06 664.01,102.07 664.40,102.09 664.80,102.11 665.20,102.12 665.60,102.14 666.00,102.15 666.40,102.17 666.80,102.18 667.19,102.20 667.59,102.21 667.99,102.23 668.39,102.24 668.79,102.26 669.19,102.27 669.59,102.29 669.98,102.30 670.38,102.32 670.78,102.33 671.18,102.34 671.58,102.36 671.98,102.37 672.38,102.39 672.77,102.40 673.17,102.42 673.57,102.43 673.97,102.44 674.37,102.46 674.77,102.47 675.16,102.49 675.56,102.50 675.96,102.51 676.36,102.53 676.76,102.54 677.16,102.56 677.56,102.57 677.95,102.58 678.35,102.60 678.75,102.61" stroke="#00ff00" stroke-width="2.6" fill="none" stroke-linejoin="round"/></g>
<rect x="499.40" y="4.60" width="179.35" height="112.55" stroke="#000" stroke-width="1.45" fill="none"/>
<path d="M499.40 117.15h5.0M499.40 112.46h2.5M499.40 107.77h2.5M499.40 103.08h2.5M499.40 98.39h5.0M499.40 93.70h2.5M499.40 89.01h2.5M499.40 84.32h2.5M499.40 79.63h5.0M499.40 74.94h2.5M499.40 70.25h2.5M499.40 65.56h2.5M499.40 60.87h5.0M499.40 56.19h2.5M499.40 51.50h2.5M499.40 46.81h2.5M499.40 42.12h5.0M499.40 37.43h2.5M499.40 32.74h2.5M499.40 28.05h2.5M499.40 23.36h5.0M499.40 18.67h2.5M499.40 13.98h2.5M499.40 9.29h2.5M499.40 4.60h5.0M509.36 117.15v-1.6M519.33 117.15v-3.2M529.29 117.15v-1.6M539.26 117.15v-1.6M549.22 117.15v-1.6M559.18 117.15v-3.2M569.15 117.15v-1.6M579.11 117.15v-1.6M589.08 117.15v-1.6M599.04 117.15v-3.2M609.00 117.15v-1.6M618.97 117.15v-1.6M628.93 117.15v-1.6M638.90 117.15v-3.2M648.86 117.15v-1.6M658.82 117.15v-1.6M668.79 117.15v-1.6" stroke="#000" stroke-width="1.2" fill="none"/>
<text x="489.12" y="121.45" font-size="12.2" font-family="Liberation Sans, sans-serif">0</text>
<text x="489.12" y="102.69" font-size="12.2" font-family="Liberation Sans, sans-serif">2</text>
<text x="489.12" y="83.93" font-size="12.2" font-family="Liberation Sans, sans-serif">4</text>
<text x="489.12" y="65.17" font-size="12.2" font-family="Liberation Sans, sans-serif">6</text>
<text x="489.12" y="46.42" font-size="12.2" font-family="Liberation Sans, sans-serif">8</text>
<path transform="translate(482.33 27.66) scale(12.2 -12.2)" d="M0.290 0L0.378 0L0.378 0.703L0.306 0.703C0.290 0.628 0.228 0.592 0.105 0.588L0.105 0.527L0.290 0.527Z"/>
<text x="489.12" y="27.66" font-size="12.2" font-family="Liberation Sans, sans-serif">0</text>
<path transform="translate(482.33 8.90) scale(12.2 -12.2)" d="M0.290 0L0.378 0L0.378 0.703L0.306 0.703C0.290 0.628 0.228 0.592 0.105 0.588L0.105 0.527L0.290 0.527Z"/>
<text x="489.12" y="8.90" font-size="12.2" font-family="Liberation Sans, sans-serif">2</text>
<text x="515.94" y="129.05" font-size="12.2" font-family="Liberation Sans, sans-serif">2</text>
<text x="555.79" y="129.05" font-size="12.2" font-family="Liberation Sans, sans-serif">4</text>
<text x="595.65" y="129.05" font-size="12.2" font-family="Liberation Sans, sans-serif">6</text>
<text x="635.50" y="129.05" font-size="12.2" font-family="Liberation Sans, sans-serif">8</text>
<path transform="translate(671.97 129.05) scale(12.2 -12.2)" d="M0.290 0L0.378 0L0.378 0.703L0.306 0.703C0.290 0.628 0.228 0.592 0.105 0.588L0.105 0.527L0.290 0.527Z"/>
<text x="678.75" y="129.05" font-size="12.2" font-family="Liberation Sans, sans-serif">0</text>
<text x="678.85" y="139.35" text-anchor="end" font-size="13.3" font-family="Liberation Sans, sans-serif">energy (keV)</text>
<text transform="translate(475.90 2.00) rotate(-90) scale(1 1.07)" text-anchor="end" font-size="13.25" font-family="Liberation Sans, sans-serif">Rate (c/keV/kg/day)</text>
<rect x="597.40" y="14.40" width="77.10" height="42.70" rx="0.8" fill="#fff" stroke="#000" stroke-width="1.1"/>
<path d="M600.60 25.10h13.4M607.20 18.50v13.2" stroke="#0000ff" stroke-width="1.9" fill="none"/>
<path d="M600.60 46.40h13.4" stroke="#00ff00" stroke-width="2.2" fill="none"/>
<text x="616.80" y="28.00" font-size="9.2" font-family="Liberation Sans, sans-serif">D2 data</text>
<text x="616.80" y="49.80" font-size="9.2" font-family="Liberation Sans, sans-serif">D2 sim</text>
<clipPath id="clip3"><rect x="33.30" y="156.40" width="179.35" height="112.55"/></clipPath>
<path d="M53.23 156.55V268.95M93.08 156.55V268.95M132.94 156.55V268.95M172.80 156.55V268.95M33.95 250.19H212.65M33.95 231.43H212.65M33.95 212.67H212.65M33.95 193.92H212.65M33.95 175.16H212.65" stroke="#000" stroke-width="1.15" stroke-dasharray="1.3 2.4" fill="none"/>
<g clip-path="url(#clip3)"><path d="M33.10 162.24H35.49V179.44H33.10ZM35.09 182.51H37.49V193.51H35.09ZM37.09 197.26H39.48V204.46H37.09ZM39.08 206.24H41.47V211.24H39.08ZM41.07 212.35H43.46V216.75H41.07ZM43.06 216.39H45.46V220.59H43.06ZM45.06 221.94H47.45V225.74H45.06ZM47.05 227.11H49.44V230.51H47.05ZM49.04 224.19H51.44V227.79H49.04ZM51.04 230.77H53.43V234.17H51.04ZM53.03 228.61H55.42V231.81H53.03ZM55.02 230.77H57.41V233.97H55.02ZM57.01 231.24H59.41V234.44H57.01ZM59.01 232.83H61.40V236.03H59.01ZM61.00 230.77H63.39V233.97H61.00ZM62.99 231.24H65.38V234.44H62.99ZM64.98 232.83H67.38V236.03H64.98ZM66.98 229.18H69.37V232.38H66.98ZM68.97 231.24H71.36V234.44H68.97ZM70.96 231.24H73.36V234.44H70.96ZM72.96 231.33H75.35V234.53H72.96ZM74.95 233.30H77.34V236.50H74.95ZM76.94 233.30H79.33V236.50H76.94ZM78.93 236.02H81.33V239.22H78.93ZM80.93 231.33H83.32V234.53H80.93ZM82.92 231.71H85.31V234.91H82.92ZM84.91 235.55H87.31V238.75H84.91ZM86.91 237.81H89.30V241.01H86.91ZM88.90 235.09H91.29V238.29H88.90ZM90.89 236.87H93.28V240.07H90.89ZM92.88 238.66H95.28V241.46H92.88ZM94.88 239.13H97.27V241.93H94.88ZM96.87 238.94H99.26V241.74H96.87ZM98.86 243.35H101.26V246.15H98.86ZM100.86 242.88H103.25V245.68H100.86ZM102.85 241.10H105.24V243.90H102.85ZM104.84 241.10H107.23V243.90H104.84ZM106.83 243.82H109.23V246.62H106.83ZM108.83 244.29H111.22V247.09H108.83ZM110.82 241.57H113.21V244.37H110.82ZM112.81 241.10H115.20V243.90H112.81ZM114.80 242.51H117.20V245.31H114.80ZM116.80 242.88H119.19V245.68H116.80ZM118.79 245.70H121.18V248.50H118.79ZM120.78 245.32H123.18V248.12H120.78ZM122.78 243.82H125.17V246.62H122.78ZM124.77 244.10H127.16V246.90H124.77ZM126.76 243.35H129.15V246.15H126.76ZM128.75 246.26H131.15V249.06H128.75ZM130.75 246.73H133.14V249.53H130.75ZM132.74 245.70H135.13V248.50H132.74ZM134.73 244.10H137.13V246.90H134.73ZM136.73 245.98H139.12V248.78H136.73ZM138.72 247.10H141.11V249.90H138.72ZM140.71 244.38H143.10V247.18H140.71ZM142.70 246.26H145.10V249.06H142.70ZM144.70 247.38H147.09V250.18H144.70ZM146.69 245.70H149.08V248.50H146.69ZM148.68 245.98H151.08V248.78H148.68ZM150.68 246.26H153.07V249.06H150.68ZM152.67 247.67H155.06V250.47H152.67ZM154.66 245.98H157.05V248.78H154.66ZM156.65 246.45H159.05V249.25H156.65ZM158.65 246.45H161.04V249.25H158.65ZM160.64 247.67H163.03V250.47H160.64ZM162.63 246.45H165.02V249.25H162.63ZM164.62 248.79H167.02V251.59H164.62ZM166.62 246.92H169.01V249.72H166.62ZM168.61 246.45H171.00V249.25H168.61ZM170.60 247.67H173.00V250.47H170.60ZM172.60 249.26H174.99V252.06H172.60ZM174.59 242.60H176.98V245.40H174.59ZM176.58 245.51H178.97V248.31H176.58ZM178.57 248.79H180.97V251.59H178.57ZM180.57 243.54H182.96V246.34H180.57ZM182.56 246.92H184.95V249.72H182.56ZM184.55 245.04H186.95V247.84H184.55ZM186.55 247.38H188.94V250.18H186.55ZM188.54 243.54H190.93V246.34H188.54ZM190.53 245.04H192.92V247.84H190.53ZM192.52 247.67H194.92V250.47H192.52ZM194.52 245.98H196.91V248.78H194.52ZM196.51 243.35H198.90V246.15H196.51ZM198.50 242.70H200.90V245.50H198.50ZM200.50 245.04H202.89V247.84H200.50ZM202.49 247.38H204.88V250.18H202.49ZM204.48 245.98H206.87V248.78H204.48ZM206.47 245.51H208.87V248.31H206.47ZM208.47 244.57H210.86V247.37H208.47ZM210.46 244.10H212.85V246.90H210.46Z" fill="#0000ff"/>
<polyline points="33.30,240.81 33.70,240.93 34.10,241.04 34.50,241.16 34.89,241.27 35.29,241.39 35.69,241.50 36.09,241.61 36.49,241.73 36.89,241.84 37.29,241.95 37.68,242.06 38.08,242.17 38.48,242.27 38.88,242.38 39.28,242.48 39.68,242.59 40.08,242.69 40.47,242.80 40.87,242.90 41.27,243.00 41.67,243.11 42.07,243.21 42.47,243.32 42.87,243.42 43.26,243.53 43.66,243.64 44.06,243.75 44.46,243.86 44.86,243.97 45.26,244.08 45.66,244.19 46.05,244.30 46.45,244.41 46.85,244.51 47.25,244.61 47.65,244.71 48.05,244.80 48.45,244.89 48.84,244.97 49.24,245.05 49.64,245.12 50.04,245.19 50.44,245.25 50.84,245.31 51.24,245.36 51.63,245.40 52.03,245.44 52.43,245.47 52.83,245.49 53.23,245.50 53.63,245.51 54.03,245.51 54.42,245.50 54.82,245.48 55.22,245.45 55.62,245.41 56.02,245.36 56.42,245.30 56.82,245.22 57.21,245.13 57.61,245.03 58.01,244.91 58.41,244.78 58.81,244.63 59.21,244.47 59.60,244.29 60.00,244.10 60.40,243.90 60.80,243.69 61.20,243.47 61.60,243.24 62.00,242.99 62.39,242.74 62.79,242.48 63.19,242.22 63.59,241.95 63.99,241.67 64.39,241.39 64.79,241.10 65.18,240.81 65.58,240.52 65.98,240.22 66.38,239.92 66.78,239.62 67.18,239.32 67.58,239.01 67.97,238.71 68.37,238.41 68.77,238.11 69.17,237.81 69.57,237.52 69.97,237.23 70.37,236.95 70.76,236.68 71.16,236.42 71.56,236.16 71.96,235.92 72.36,235.69 72.76,235.48 73.16,235.28 73.55,235.10 73.95,234.93 74.35,234.78 74.75,234.64 75.15,234.53 75.55,234.42 75.95,234.34 76.34,234.27 76.74,234.22 77.14,234.18 77.54,234.16 77.94,234.15 78.34,234.16 78.74,234.19 79.13,234.23 79.53,234.28 79.93,234.35 80.33,234.44 80.73,234.54 81.13,234.66 81.53,234.79 81.92,234.94 82.32,235.10 82.72,235.28 83.12,235.47 83.52,235.67 83.92,235.89 84.32,236.12 84.71,236.36 85.11,236.60 85.51,236.85 85.91,237.10 86.31,237.36 86.71,237.61 87.11,237.86 87.50,238.11 87.90,238.35 88.30,238.58 88.70,238.81 89.10,239.02 89.50,239.23 89.90,239.43 90.29,239.62 90.69,239.81 91.09,239.99 91.49,240.17 91.89,240.33 92.29,240.50 92.69,240.66 93.08,240.81 93.48,240.96 93.88,241.11 94.28,241.25 94.68,241.39 95.08,241.53 95.48,241.66 95.87,241.79 96.27,241.91 96.67,242.03 97.07,242.14 97.47,242.25 97.87,242.36 98.27,242.46 98.66,242.55 99.06,242.64 99.46,242.73 99.86,242.81 100.26,242.90 100.66,242.98 101.06,243.05 101.45,243.13 101.85,243.21 102.25,243.28 102.65,243.36 103.05,243.44 103.45,243.52 103.85,243.60 104.24,243.68 104.64,243.76 105.04,243.85 105.44,243.93 105.84,244.01 106.24,244.10 106.64,244.18 107.03,244.27 107.43,244.35 107.83,244.43 108.23,244.51 108.63,244.59 109.03,244.67 109.42,244.75 109.82,244.82 110.22,244.90 110.62,244.97 111.02,245.05 111.42,245.12 111.82,245.19 112.21,245.27 112.61,245.34 113.01,245.41 113.41,245.48 113.81,245.55 114.21,245.62 114.61,245.68 115.00,245.75 115.40,245.81 115.80,245.87 116.20,245.93 116.60,245.99 117.00,246.04 117.40,246.09 117.79,246.14 118.19,246.18 118.59,246.22 118.99,246.25 119.39,246.28 119.79,246.31 120.19,246.33 120.58,246.35 120.98,246.37 121.38,246.39 121.78,246.40 122.18,246.42 122.58,246.43 122.98,246.44 123.37,246.45 123.77,246.46 124.17,246.46 124.57,246.47 124.97,246.47 125.37,246.48 125.77,246.48 126.16,246.48 126.56,246.47 126.96,246.47 127.36,246.46 127.76,246.45 128.16,246.43 128.56,246.42 128.95,246.40 129.35,246.38 129.75,246.35 130.15,246.33 130.55,246.31 130.95,246.28 131.35,246.26 131.74,246.23 132.14,246.21 132.54,246.18 132.94,246.16 133.34,246.14 133.74,246.12 134.14,246.10 134.53,246.08 134.93,246.06 135.33,246.05 135.73,246.04 136.13,246.02 136.53,246.01 136.93,246.00 137.32,245.99 137.72,245.98 138.12,245.97 138.52,245.96 138.92,245.95 139.32,245.94 139.72,245.94 140.11,245.93 140.51,245.92 140.91,245.91 141.31,245.91 141.71,245.90 142.11,245.89 142.51,245.88 142.90,245.88 143.30,245.87 143.70,245.86 144.10,245.85 144.50,245.84 144.90,245.84 145.30,245.83 145.69,245.82 146.09,245.81 146.49,245.80 146.89,245.79 147.29,245.78 147.69,245.77 148.09,245.76 148.48,245.76 148.88,245.75 149.28,245.74 149.68,245.73 150.08,245.73 150.48,245.72 150.88,245.71 151.27,245.71 151.67,245.70 152.07,245.70 152.47,245.69 152.87,245.69 153.27,245.69 153.67,245.69 154.06,245.68 154.46,245.68 154.86,245.68 155.26,245.68 155.66,245.69 156.06,245.69 156.46,245.69 156.85,245.69 157.25,245.70 157.65,245.70 158.05,245.70 158.45,245.71 158.85,245.72 159.24,245.72 159.64,245.73 160.04,245.73 160.44,245.74 160.84,245.75 161.24,245.76 161.64,245.76 162.03,245.77 162.43,245.78 162.83,245.79 163.23,245.80 163.63,245.81 164.03,245.82 164.43,245.83 164.82,245.84 165.22,245.85 165.62,245.86 166.02,245.87 166.42,245.88 166.82,245.90 167.22,245.91 167.61,245.92 168.01,245.93 168.41,245.94 168.81,245.95 169.21,245.96 169.61,245.98 170.01,245.99 170.40,246.00 170.80,246.01 171.20,246.02 171.60,246.03 172.00,246.04 172.40,246.05 172.80,246.06 173.19,246.08 173.59,246.09 173.99,246.10 174.39,246.11 174.79,246.12 175.19,246.13 175.59,246.14 175.98,246.15 176.38,246.16 176.78,246.16 177.18,246.17 177.58,246.18 177.98,246.19 178.38,246.20 178.77,246.21 179.17,246.22 179.57,246.23 179.97,246.23 180.37,246.24 180.77,246.25 181.17,246.26 181.56,246.27 181.96,246.27 182.36,246.28 182.76,246.29 183.16,246.30 183.56,246.30 183.96,246.31 184.35,246.32 184.75,246.32 185.15,246.33 185.55,246.34 185.95,246.34 186.35,246.35 186.75,246.36 187.14,246.36 187.54,246.37 187.94,246.37 188.34,246.38 188.74,246.39 189.14,246.39 189.54,246.40 189.93,246.40 190.33,246.41 190.73,246.41 191.13,246.42 191.53,246.42 191.93,246.43 192.33,246.43 192.72,246.44 193.12,246.44 193.52,246.45 193.92,246.45 194.32,246.46 194.72,246.46 195.12,246.47 195.51,246.47 195.91,246.48 196.31,246.48 196.71,246.49 197.11,246.49 197.51,246.49 197.91,246.50 198.30,246.50 198.70,246.51 199.10,246.51 199.50,246.52 199.90,246.52 200.30,246.52 200.70,246.53 201.09,246.53 201.49,246.53 201.89,246.54 202.29,246.54 202.69,246.55 203.09,246.55 203.49,246.55 203.88,246.56 204.28,246.56 204.68,246.56 205.08,246.57 205.48,246.57 205.88,246.57 206.28,246.58 206.67,246.58 207.07,246.58 207.47,246.59 207.87,246.59 208.27,246.59 208.67,246.60 209.06,246.60 209.46,246.60 209.86,246.61 210.26,246.61 210.66,246.61 211.06,246.61 211.46,246.62 211.85,246.62 212.25,246.62 212.65,246.63" stroke="#00ff00" stroke-width="2.6" fill="none" stroke-linejoin="round"/></g>
<rect x="33.30" y="156.40" width="179.35" height="112.55" stroke="#000" stroke-width="1.45" fill="none"/>
<path d="M33.30 268.95h5.0M33.30 264.26h2.5M33.30 259.57h2.5M33.30 254.88h2.5M33.30 250.19h5.0M33.30 245.50h2.5M33.30 240.81h2.5M33.30 236.12h2.5M33.30 231.43h5.0M33.30 226.74h2.5M33.30 222.05h2.5M33.30 217.36h2.5M33.30 212.67h5.0M33.30 207.99h2.5M33.30 203.30h2.5M33.30 198.61h2.5M33.30 193.92h5.0M33.30 189.23h2.5M33.30 184.54h2.5M33.30 179.85h2.5M33.30 175.16h5.0M33.30 170.47h2.5M33.30 165.78h2.5M33.30 161.09h2.5M33.30 156.40h5.0M43.26 268.95v-1.6M53.23 268.95v-3.2M63.19 268.95v-1.6M73.16 268.95v-1.6M83.12 268.95v-1.6M93.08 268.95v-3.2M103.05 268.95v-1.6M113.01 268.95v-1.6M122.98 268.95v-1.6M132.94 268.95v-3.2M142.90 268.95v-1.6M152.87 268.95v-1.6M162.83 268.95v-1.6M172.80 268.95v-3.2M182.76 268.95v-1.6M192.72 268.95v-1.6M202.69 268.95v-1.6" stroke="#000" stroke-width="1.2" fill="none"/>
<text x="23.02" y="273.25" font-size="12.2" font-family="Liberation Sans, sans-serif">0</text>
<text x="23.02" y="254.49" font-size="12.2" font-family="Liberation Sans, sans-serif">2</text>
<text x="23.02" y="235.73" font-size="12.2" font-family="Liberation Sans, sans-serif">4</text>
<text x="23.02" y="216.97" font-size="12.2" font-family="Liberation Sans, sans-serif">6</text>
<text x="23.02" y="198.22" font-size="12.2" font-family="Liberation Sans, sans-serif">8</text>
<path transform="translate(16.23 179.46) scale(12.2 -12.2)" d="M0.290 0L0.378 0L0.378 0.703L0.306 0.703C0.290 0.628 0.228 0.592 0.105 0.588L0.105 0.527L0.290 0.527Z"/>
<text x="23.02" y="179.46" font-size="12.2" font-family="Liberation Sans, sans-serif">0</text>
<path transform="translate(16.23 160.70) scale(12.2 -12.2)" d="M0.290 0L0.378 0L0.378 0.703L0.306 0.703C0.290 0.628 0.228 0.592 0.105 0.588L0.105 0.527L0.290 0.527Z"/>
<text x="23.02" y="160.70" font-size="12.2" font-family="Liberation Sans, sans-serif">2</text>
<text x="49.84" y="280.85" font-size="12.2" font-family="Liberation Sans, sans-serif">2</text>
<text x="89.69" y="280.85" font-size="12.2" font-family="Liberation Sans, sans-serif">4</text>
<text x="129.55" y="280.85" font-size="12.2" font-family="Liberation Sans, sans-serif">6</text>
<text x="169.40" y="280.85" font-size="12.2" font-family="Liberation Sans, sans-serif">8</text>
<path transform="translate(205.87 280.85) scale(12.2 -12.2)" d="M0.290 0L0.378 0L0.378 0.703L0.306 0.703C0.290 0.628 0.228 0.592 0.105 0.588L0.105 0.527L0.290 0.527Z"/>
<text x="212.65" y="280.85" font-size="12.2" font-family="Liberation Sans, sans-serif">0</text>
<text x="212.75" y="291.15" text-anchor="end" font-size="13.3" font-family="Liberation Sans, sans-serif">energy (keV)</text>
<text transform="translate(9.80 153.80) rotate(-90) scale(1 1.07)" text-anchor="end" font-size="13.25" font-family="Liberation Sans, sans-serif">Rate (c/keV/kg/day)</text>
<rect x="131.30" y="166.20" width="77.10" height="42.70" rx="0.8" fill="#fff" stroke="#000" stroke-width="1.1"/>
<path d="M134.50 176.90h13.4M141.10 170.30v13.2" stroke="#0000ff" stroke-width="1.9" fill="none"/>
<path d="M134.50 198.20h13.4" stroke="#00ff00" stroke-width="2.2" fill="none"/>
<text x="150.70" y="179.80" font-size="9.2" font-family="Liberation Sans, sans-serif">D3 data</text>
<text x="150.70" y="201.60" font-size="9.2" font-family="Liberation Sans, sans-serif">D3 sim</text>
<clipPath id="clip4"><rect x="266.30" y="156.40" width="179.35" height="112.55"/></clipPath>
<path d="M286.23 156.55V268.95M326.08 156.55V268.95M365.94 156.55V268.95M405.80 156.55V268.95M266.95 250.19H445.65M266.95 231.43H445.65M266.95 212.67H445.65M266.95 193.92H445.65M266.95 175.16H445.65" stroke="#000" stroke-width="1.15" stroke-dasharray="1.3 2.4" fill="none"/>
<g clip-path="url(#clip4)"><path d="M266.10 207.64H268.49V218.84H266.10ZM268.09 218.75H270.49V225.55H268.09ZM270.09 221.54H272.48V226.14H270.09ZM272.08 226.06H274.47V230.06H272.08ZM274.07 227.75H276.46V231.75H274.07ZM276.06 229.91H278.46V233.51H276.06ZM278.06 233.12H280.45V236.32H278.06ZM280.05 233.59H282.44V236.78H280.05ZM282.04 233.12H284.44V236.32H282.04ZM284.04 234.99H286.43V238.19H284.04ZM286.03 237.62H288.42V240.82H286.03ZM288.02 238.27H290.41V241.47H288.02ZM290.01 237.06H292.41V240.26H290.01ZM292.01 235.93H294.40V239.13H292.01ZM294.00 234.99H296.39V238.19H294.00ZM295.99 237.90H298.38V241.10H295.99ZM297.98 237.06H300.38V240.26H297.98ZM299.98 236.49H302.37V239.69H299.98ZM301.97 236.77H304.36V239.97H301.97ZM303.96 234.52H306.36V237.72H303.96ZM305.96 234.05H308.35V237.25H305.96ZM307.95 233.12H310.34V236.32H307.95ZM309.94 234.80H312.33V238.00H309.94ZM311.93 234.80H314.33V238.00H311.93ZM313.93 235.46H316.32V238.66H313.93ZM315.92 235.74H318.31V238.94H315.92ZM317.91 232.46H320.31V235.66H317.91ZM319.91 236.40H322.30V239.60H319.91ZM321.90 236.87H324.29V240.07H321.90ZM323.89 237.34H326.28V240.54H323.89ZM325.88 238.47H328.28V241.27H325.88ZM327.88 238.47H330.27V241.27H327.88ZM329.87 239.60H332.26V242.40H329.87ZM331.86 243.16H334.26V245.96H331.86ZM333.86 243.82H336.25V246.62H333.86ZM335.85 243.54H338.24V246.34H335.85ZM337.84 245.23H340.23V248.03H337.84ZM339.83 245.51H342.23V248.31H339.83ZM341.83 245.23H344.22V248.03H341.83ZM343.82 244.10H346.21V246.90H343.82ZM345.81 243.82H348.20V246.62H345.81ZM347.80 243.35H350.20V246.15H347.80ZM349.80 243.35H352.19V246.15H349.80ZM351.79 243.82H354.18V246.62H351.79ZM353.78 244.57H356.18V247.37H353.78ZM355.78 243.54H358.17V246.34H355.78ZM357.77 244.57H360.16V247.37H357.77ZM359.76 243.82H362.15V246.62H359.76ZM361.75 244.10H364.15V246.90H361.75ZM363.75 242.41H366.14V245.21H363.75ZM365.74 244.57H368.13V247.37H365.74ZM367.73 244.57H370.13V247.37H367.73ZM369.73 247.38H372.12V250.18H369.73ZM371.72 244.57H374.11V247.37H371.72ZM373.71 244.57H376.10V247.37H373.71ZM375.70 244.38H378.10V247.18H375.70ZM377.70 247.01H380.09V249.81H377.70ZM379.69 246.73H382.08V249.53H379.69ZM381.68 242.70H384.08V245.50H381.68ZM383.68 247.01H386.07V249.81H383.68ZM385.67 242.13H388.06V244.93H385.67ZM387.66 245.88H390.05V248.68H387.66ZM389.65 246.54H392.05V249.34H389.65ZM391.65 247.20H394.04V250.00H391.65ZM393.64 245.04H396.03V247.84H393.64ZM395.63 246.45H398.02V249.25H395.63ZM397.62 246.35H400.02V249.15H397.62ZM399.62 244.57H402.01V247.37H399.62ZM401.61 245.32H404.00V248.12H401.61ZM403.60 246.45H406.00V249.25H403.60ZM405.60 245.98H407.99V248.78H405.60ZM407.59 244.57H409.98V247.37H407.59ZM409.58 243.82H411.97V246.62H409.58ZM411.57 245.98H413.97V248.78H411.57ZM413.57 243.54H415.96V246.34H413.57ZM415.56 244.57H417.95V247.37H415.56ZM417.55 245.04H419.95V247.84H417.55ZM419.55 245.04H421.94V247.84H419.55ZM421.54 245.51H423.93V248.31H421.54ZM423.53 245.04H425.92V247.84H423.53ZM425.52 244.57H427.92V247.37H425.52ZM427.52 248.51H429.91V251.31H427.52ZM429.51 245.98H431.90V248.78H429.51ZM431.50 245.51H433.90V248.31H431.50ZM433.50 245.51H435.89V248.31H433.50ZM435.49 245.98H437.88V248.78H435.49ZM437.48 248.14H439.87V250.94H437.48ZM439.47 244.85H441.87V247.65H439.47ZM441.47 247.67H443.86V250.47H441.47ZM443.46 245.32H445.85V248.12H443.46Z" fill="#0000ff"/>
<polyline points="266.30,241.38 266.70,241.48 267.10,241.58 267.50,241.69 267.89,241.79 268.29,241.90 268.69,242.00 269.09,242.11 269.49,242.21 269.89,242.32 270.29,242.43 270.68,242.53 271.08,242.64 271.48,242.74 271.88,242.85 272.28,242.95 272.68,243.06 273.08,243.16 273.47,243.27 273.87,243.37 274.27,243.48 274.67,243.58 275.07,243.69 275.47,243.79 275.87,243.90 276.26,244.00 276.66,244.10 277.06,244.21 277.46,244.31 277.86,244.41 278.26,244.51 278.66,244.61 279.05,244.71 279.45,244.81 279.85,244.90 280.25,245.00 280.65,245.09 281.05,245.18 281.45,245.26 281.84,245.35 282.24,245.43 282.64,245.51 283.04,245.58 283.44,245.65 283.84,245.72 284.24,245.78 284.63,245.83 285.03,245.88 285.43,245.92 285.83,245.95 286.23,245.97 286.63,245.99 287.03,245.99 287.42,245.99 287.82,245.98 288.22,245.96 288.62,245.93 289.02,245.89 289.42,245.84 289.82,245.78 290.21,245.71 290.61,245.64 291.01,245.55 291.41,245.45 291.81,245.35 292.21,245.23 292.60,245.11 293.00,244.98 293.40,244.84 293.80,244.70 294.20,244.55 294.60,244.39 295.00,244.23 295.39,244.06 295.79,243.89 296.19,243.72 296.59,243.54 296.99,243.37 297.39,243.18 297.79,243.00 298.18,242.82 298.58,242.63 298.98,242.44 299.38,242.25 299.78,242.06 300.18,241.86 300.58,241.67 300.97,241.47 301.37,241.28 301.77,241.08 302.17,240.88 302.57,240.69 302.97,240.49 303.37,240.30 303.76,240.11 304.16,239.92 304.56,239.73 304.96,239.55 305.36,239.37 305.76,239.20 306.16,239.03 306.55,238.87 306.95,238.71 307.35,238.56 307.75,238.42 308.15,238.29 308.55,238.16 308.95,238.05 309.34,237.94 309.74,237.85 310.14,237.77 310.54,237.70 310.94,237.65 311.34,237.60 311.74,237.58 312.13,237.56 312.53,237.56 312.93,237.57 313.33,237.59 313.73,237.63 314.13,237.67 314.53,237.72 314.92,237.78 315.32,237.85 315.72,237.92 316.12,238.00 316.52,238.08 316.92,238.18 317.32,238.27 317.71,238.37 318.11,238.48 318.51,238.59 318.91,238.70 319.31,238.82 319.71,238.95 320.11,239.07 320.50,239.20 320.90,239.34 321.30,239.47 321.70,239.62 322.10,239.76 322.50,239.90 322.90,240.04 323.29,240.19 323.69,240.33 324.09,240.47 324.49,240.60 324.89,240.73 325.29,240.86 325.69,240.98 326.08,241.09 326.48,241.20 326.88,241.30 327.28,241.39 327.68,241.48 328.08,241.56 328.48,241.64 328.87,241.72 329.27,241.79 329.67,241.86 330.07,241.94 330.47,242.01 330.87,242.09 331.27,242.16 331.66,242.25 332.06,242.33 332.46,242.41 332.86,242.50 333.26,242.59 333.66,242.68 334.06,242.77 334.45,242.87 334.85,242.96 335.25,243.06 335.65,243.15 336.05,243.25 336.45,243.35 336.85,243.45 337.24,243.54 337.64,243.64 338.04,243.74 338.44,243.84 338.84,243.94 339.24,244.03 339.64,244.13 340.03,244.23 340.43,244.33 340.83,244.42 341.23,244.52 341.63,244.61 342.03,244.71 342.42,244.80 342.82,244.90 343.22,244.99 343.62,245.08 344.02,245.17 344.42,245.26 344.82,245.35 345.21,245.43 345.61,245.51 346.01,245.60 346.41,245.68 346.81,245.75 347.21,245.83 347.61,245.90 348.00,245.97 348.40,246.04 348.80,246.11 349.20,246.17 349.60,246.24 350.00,246.30 350.40,246.36 350.79,246.41 351.19,246.47 351.59,246.52 351.99,246.57 352.39,246.62 352.79,246.66 353.19,246.70 353.58,246.74 353.98,246.78 354.38,246.81 354.78,246.84 355.18,246.87 355.58,246.89 355.98,246.91 356.37,246.92 356.77,246.94 357.17,246.94 357.57,246.95 357.97,246.95 358.37,246.95 358.77,246.95 359.16,246.95 359.56,246.94 359.96,246.93 360.36,246.92 360.76,246.91 361.16,246.90 361.56,246.89 361.95,246.88 362.35,246.87 362.75,246.85 363.15,246.84 363.55,246.82 363.95,246.81 364.35,246.79 364.74,246.78 365.14,246.76 365.54,246.74 365.94,246.72 366.34,246.70 366.74,246.68 367.14,246.66 367.53,246.64 367.93,246.62 368.33,246.60 368.73,246.57 369.13,246.55 369.53,246.53 369.93,246.51 370.32,246.49 370.72,246.46 371.12,246.44 371.52,246.42 371.92,246.40 372.32,246.38 372.72,246.36 373.11,246.35 373.51,246.33 373.91,246.31 374.31,246.30 374.71,246.28 375.11,246.27 375.51,246.26 375.90,246.25 376.30,246.24 376.70,246.24 377.10,246.23 377.50,246.23 377.90,246.23 378.30,246.23 378.69,246.23 379.09,246.23 379.49,246.23 379.89,246.23 380.29,246.24 380.69,246.24 381.09,246.25 381.48,246.26 381.88,246.26 382.28,246.27 382.68,246.28 383.08,246.29 383.48,246.29 383.88,246.30 384.27,246.31 384.67,246.32 385.07,246.33 385.47,246.34 385.87,246.35 386.27,246.35 386.67,246.36 387.06,246.37 387.46,246.38 387.86,246.39 388.26,246.39 388.66,246.40 389.06,246.41 389.46,246.41 389.85,246.42 390.25,246.43 390.65,246.43 391.05,246.44 391.45,246.44 391.85,246.45 392.24,246.46 392.64,246.46 393.04,246.47 393.44,246.47 393.84,246.48 394.24,246.48 394.64,246.49 395.03,246.49 395.43,246.50 395.83,246.50 396.23,246.51 396.63,246.51 397.03,246.52 397.43,246.52 397.82,246.53 398.22,246.53 398.62,246.54 399.02,246.54 399.42,246.54 399.82,246.55 400.22,246.55 400.61,246.56 401.01,246.56 401.41,246.57 401.81,246.57 402.21,246.58 402.61,246.58 403.01,246.59 403.40,246.59 403.80,246.60 404.20,246.60 404.60,246.61 405.00,246.62 405.40,246.62 405.80,246.63 406.19,246.63 406.59,246.64 406.99,246.65 407.39,246.65 407.79,246.66 408.19,246.67 408.59,246.67 408.98,246.68 409.38,246.69 409.78,246.69 410.18,246.70 410.58,246.71 410.98,246.72 411.38,246.72 411.77,246.73 412.17,246.74 412.57,246.75 412.97,246.75 413.37,246.76 413.77,246.77 414.17,246.78 414.56,246.78 414.96,246.79 415.36,246.80 415.76,246.81 416.16,246.82 416.56,246.82 416.96,246.83 417.35,246.84 417.75,246.85 418.15,246.86 418.55,246.86 418.95,246.87 419.35,246.88 419.75,246.89 420.14,246.90 420.54,246.90 420.94,246.91 421.34,246.92 421.74,246.93 422.14,246.94 422.54,246.94 422.93,246.95 423.33,246.96 423.73,246.97 424.13,246.97 424.53,246.98 424.93,246.99 425.33,247.00 425.72,247.00 426.12,247.01 426.52,247.02 426.92,247.02 427.32,247.03 427.72,247.04 428.12,247.04 428.51,247.05 428.91,247.06 429.31,247.06 429.71,247.07 430.11,247.08 430.51,247.08 430.91,247.09 431.30,247.09 431.70,247.10 432.10,247.11 432.50,247.11 432.90,247.12 433.30,247.12 433.70,247.13 434.09,247.14 434.49,247.14 434.89,247.15 435.29,247.15 435.69,247.16 436.09,247.16 436.49,247.17 436.88,247.17 437.28,247.18 437.68,247.18 438.08,247.19 438.48,247.19 438.88,247.20 439.28,247.20 439.67,247.21 440.07,247.22 440.47,247.22 440.87,247.23 441.27,247.23 441.67,247.24 442.06,247.24 442.46,247.25 442.86,247.25 443.26,247.25 443.66,247.26 444.06,247.26 444.46,247.27 444.85,247.27 445.25,247.28 445.65,247.28" stroke="#00ff00" stroke-width="2.6" fill="none" stroke-linejoin="round"/></g>
<rect x="266.30" y="156.40" width="179.35" height="112.55" stroke="#000" stroke-width="1.45" fill="none"/>
<path d="M266.30 268.95h5.0M266.30 264.26h2.5M266.30 259.57h2.5M266.30 254.88h2.5M266.30 250.19h5.0M266.30 245.50h2.5M266.30 240.81h2.5M266.30 236.12h2.5M266.30 231.43h5.0M266.30 226.74h2.5M266.30 222.05h2.5M266.30 217.36h2.5M266.30 212.67h5.0M266.30 207.99h2.5M266.30 203.30h2.5M266.30 198.61h2.5M266.30 193.92h5.0M266.30 189.23h2.5M266.30 184.54h2.5M266.30 179.85h2.5M266.30 175.16h5.0M266.30 170.47h2.5M266.30 165.78h2.5M266.30 161.09h2.5M266.30 156.40h5.0M276.26 268.95v-1.6M286.23 268.95v-3.2M296.19 268.95v-1.6M306.16 268.95v-1.6M316.12 268.95v-1.6M326.08 268.95v-3.2M336.05 268.95v-1.6M346.01 268.95v-1.6M355.98 268.95v-1.6M365.94 268.95v-3.2M375.90 268.95v-1.6M385.87 268.95v-1.6M395.83 268.95v-1.6M405.80 268.95v-3.2M415.76 268.95v-1.6M425.72 268.95v-1.6M435.69 268.95v-1.6" stroke="#000" stroke-width="1.2" fill="none"/>
<text x="256.02" y="273.25" font-size="12.2" font-family="Liberation Sans, sans-serif">0</text>
<text x="256.02" y="254.49" font-size="12.2" font-family="Liberation Sans, sans-serif">2</text>
<text x="256.02" y="235.73" font-size="12.2" font-family="Liberation Sans, sans-serif">4</text>
<text x="256.02" y="216.97" font-size="12.2" font-family="Liberation Sans, sans-serif">6</text>
<text x="256.02" y="198.22" font-size="12.2" font-family="Liberation Sans, sans-serif">8</text>
<path transform="translate(249.23 179.46) scale(12.2 -12.2)" d="M0.290 0L0.378 0L0.378 0.703L0.306 0.703C0.290 0.628 0.228 0.592 0.105 0.588L0.105 0.527L0.290 0.527Z"/>
<text x="256.02" y="179.46" font-size="12.2" font-family="Liberation Sans, sans-serif">0</text>
<path transform="translate(249.23 160.70) scale(12.2 -12.2)" d="M0.290 0L0.378 0L0.378 0.703L0.306 0.703C0.290 0.628 0.228 0.592 0.105 0.588L0.105 0.527L0.290 0.527Z"/>
<text x="256.02" y="160.70" font-size="12.2" font-family="Liberation Sans, sans-serif">2</text>
<text x="282.84" y="280.85" font-size="12.2" font-family="Liberation Sans, sans-serif">2</text>
<text x="322.69" y="280.85" font-size="12.2" font-family="Liberation Sans, sans-serif">4</text>
<text x="362.55" y="280.85" font-size="12.2" font-family="Liberation Sans, sans-serif">6</text>
<text x="402.40" y="280.85" font-size="12.2" font-family="Liberation Sans, sans-serif">8</text>
<path transform="translate(438.87 280.85) scale(12.2 -12.2)" d="M0.290 0L0.378 0L0.378 0.703L0.306 0.703C0.290 0.628 0.228 0.592 0.105 0.588L0.105 0.527L0.290 0.527Z"/>
<text x="445.65" y="280.85" font-size="12.2" font-family="Liberation Sans, sans-serif">0</text>
<text x="445.75" y="291.15" text-anchor="end" font-size="13.3" font-family="Liberation Sans, sans-serif">energy (keV)</text>
<text transform="translate(242.80 153.80) rotate(-90) scale(1 1.07)" text-anchor="end" font-size="13.25" font-family="Liberation Sans, sans-serif">Rate (c/keV/kg/day)</text>
<rect x="364.30" y="166.20" width="77.10" height="42.70" rx="0.8" fill="#fff" stroke="#000" stroke-width="1.1"/>
<path d="M367.50 176.90h13.4M374.10 170.30v13.2" stroke="#0000ff" stroke-width="1.9" fill="none"/>
<path d="M367.50 198.20h13.4" stroke="#00ff00" stroke-width="2.2" fill="none"/>
<text x="383.70" y="179.80" font-size="9.2" font-family="Liberation Sans, sans-serif">D4 data</text>
<text x="383.70" y="201.60" font-size="9.2" font-family="Liberation Sans, sans-serif">D4 sim</text>
<clipPath id="clip5"><rect x="499.40" y="156.40" width="179.35" height="112.55"/></clipPath>
<path d="M519.33 156.55V268.95M559.18 156.55V268.95M599.04 156.55V268.95M638.90 156.55V268.95M500.05 250.19H678.75M500.05 231.43H678.75M500.05 212.67H678.75M500.05 193.92H678.75M500.05 175.16H678.75" stroke="#000" stroke-width="1.15" stroke-dasharray="1.3 2.4" fill="none"/>
<g clip-path="url(#clip5)"><path d="M499.20 199.24H501.59V212.04H499.20ZM501.19 201.27H503.59V212.07H501.19ZM503.19 204.59H505.58V211.39H503.19ZM505.18 215.36H507.57V219.36H505.18ZM507.17 219.22H509.56V222.82H507.17ZM509.16 219.88H511.56V223.48H509.16ZM511.16 223.36H513.55V226.76H511.16ZM513.15 227.39H515.54V230.79H513.15ZM515.14 230.11H517.54V233.51H515.14ZM517.14 232.08H519.53V235.48H517.14ZM519.13 230.77H521.52V233.97H519.13ZM521.12 231.52H523.51V234.72H521.12ZM523.11 232.83H525.51V236.03H523.11ZM525.11 237.90H527.50V241.10H525.11ZM527.10 234.15H529.49V237.35H527.10ZM529.09 234.52H531.48V237.72H529.09ZM531.08 234.80H533.48V238.00H531.08ZM533.08 232.83H535.47V236.03H533.08ZM535.07 231.52H537.46V234.72H535.07ZM537.06 233.59H539.46V236.78H537.06ZM539.06 231.99H541.45V235.19H539.06ZM541.05 231.71H543.44V234.91H541.05ZM543.04 233.30H545.43V236.50H543.04ZM545.03 234.80H547.43V238.00H545.03ZM547.03 234.52H549.42V237.72H547.03ZM549.02 232.46H551.41V235.66H549.02ZM551.01 236.68H553.41V239.88H551.01ZM553.01 230.30H555.40V233.50H553.01ZM555.00 239.87H557.39V243.07H555.00ZM556.99 239.59H559.38V242.79H556.99ZM558.98 243.16H561.38V245.96H558.98ZM560.98 240.91H563.37V243.71H560.98ZM562.97 242.60H565.36V245.40H562.97ZM564.96 242.60H567.36V245.40H564.96ZM566.96 245.98H569.35V248.78H566.96ZM568.95 245.98H571.34V248.78H568.95ZM570.94 246.54H573.33V249.34H570.94ZM572.93 246.54H575.33V249.34H572.93ZM574.93 247.10H577.32V249.90H574.93ZM576.92 246.54H579.31V249.34H576.92ZM578.91 245.98H581.30V248.78H578.91ZM580.90 249.26H583.30V252.06H580.90ZM582.90 246.54H585.29V249.34H582.90ZM584.89 246.54H587.28V249.34H584.89ZM586.88 248.79H589.28V251.59H586.88ZM588.88 249.26H591.27V252.06H588.88ZM590.87 248.98H593.26V251.78H590.87ZM592.86 249.26H595.25V252.06H592.86ZM594.85 248.79H597.25V251.59H594.85ZM596.85 247.67H599.24V250.47H596.85ZM598.84 249.26H601.23V252.06H598.84ZM600.83 249.73H603.23V252.53H600.83ZM602.83 250.95H605.22V253.75H602.83ZM604.82 248.23H607.21V251.03H604.82ZM606.81 247.67H609.20V250.47H606.81ZM608.80 249.82H611.20V252.62H608.80ZM610.80 251.42H613.19V254.22H610.80ZM612.79 250.29H615.18V253.09H612.79ZM614.78 249.82H617.18V252.62H614.78ZM616.78 249.07H619.17V251.87H616.78ZM618.77 249.07H621.16V251.87H618.77ZM620.76 251.42H623.15V254.22H620.76ZM622.75 248.32H625.15V251.12H622.75ZM624.75 249.82H627.14V252.62H624.75ZM626.74 251.04H629.13V253.84H626.74ZM628.73 251.61H631.12V254.41H628.73ZM630.72 251.89H633.12V254.69H630.72ZM632.72 251.89H635.11V254.69H632.72ZM634.71 252.45H637.10V255.25H634.71ZM636.70 251.42H639.10V254.22H636.70ZM638.70 248.14H641.09V250.94H638.70ZM640.69 248.79H643.08V251.59H640.69ZM642.68 249.07H645.07V251.87H642.68ZM644.67 251.70H647.07V254.50H644.67ZM646.67 249.82H649.06V252.62H646.67ZM648.66 250.86H651.05V253.66H648.66ZM650.65 251.89H653.05V254.69H650.65ZM652.65 251.70H655.04V254.50H652.65ZM654.64 251.70H657.03V254.50H654.64ZM656.63 251.42H659.02V254.22H656.63ZM658.62 250.01H661.02V252.81H658.62ZM660.62 251.61H663.01V254.41H660.62ZM662.61 252.45H665.00V255.25H662.61ZM664.60 253.01H667.00V255.81H664.60ZM666.60 253.95H668.99V256.75H666.60ZM668.59 253.48H670.98V256.28H668.59ZM670.58 253.95H672.97V256.75H670.58ZM672.57 253.01H674.97V255.81H672.57ZM674.57 253.01H676.96V255.81H674.57ZM676.56 252.17H678.95V254.97H676.56Z" fill="#0000ff"/>
<polyline points="499.40,250.38 499.80,250.47 500.20,250.57 500.60,250.66 500.99,250.76 501.39,250.85 501.79,250.94 502.19,251.03 502.59,251.12 502.99,251.21 503.39,251.30 503.78,251.38 504.18,251.46 504.58,251.54 504.98,251.62 505.38,251.70 505.78,251.77 506.18,251.84 506.57,251.91 506.97,251.98 507.37,252.04 507.77,252.11 508.17,252.17 508.57,252.23 508.97,252.29 509.36,252.35 509.76,252.41 510.16,252.46 510.56,252.52 510.96,252.57 511.36,252.62 511.76,252.67 512.15,252.71 512.55,252.76 512.95,252.80 513.35,252.83 513.75,252.87 514.15,252.90 514.55,252.92 514.94,252.95 515.34,252.97 515.74,252.98 516.14,252.99 516.54,253.00 516.94,253.00 517.34,253.00 517.73,252.99 518.13,252.98 518.53,252.96 518.93,252.94 519.33,252.91 519.73,252.88 520.13,252.84 520.52,252.79 520.92,252.74 521.32,252.67 521.72,252.60 522.12,252.51 522.52,252.41 522.92,252.30 523.31,252.17 523.71,252.03 524.11,251.87 524.51,251.70 524.91,251.50 525.31,251.29 525.70,251.06 526.10,250.82 526.50,250.57 526.90,250.30 527.30,250.03 527.70,249.74 528.10,249.44 528.49,249.13 528.89,248.82 529.29,248.50 529.69,248.18 530.09,247.85 530.49,247.52 530.89,247.19 531.28,246.85 531.68,246.52 532.08,246.18 532.48,245.85 532.88,245.51 533.28,245.18 533.68,244.86 534.07,244.54 534.47,244.22 534.87,243.91 535.27,243.61 535.67,243.31 536.07,243.02 536.47,242.74 536.86,242.46 537.26,242.20 537.66,241.94 538.06,241.69 538.46,241.45 538.86,241.22 539.26,241.00 539.65,240.79 540.05,240.59 540.45,240.40 540.85,240.23 541.25,240.07 541.65,239.92 542.05,239.80 542.44,239.68 542.84,239.59 543.24,239.51 543.64,239.45 544.04,239.42 544.44,239.40 544.84,239.41 545.23,239.43 545.63,239.48 546.03,239.54 546.43,239.62 546.83,239.72 547.23,239.84 547.63,239.97 548.02,240.11 548.42,240.27 548.82,240.44 549.22,240.62 549.62,240.82 550.02,241.02 550.42,241.23 550.81,241.46 551.21,241.69 551.61,241.93 552.01,242.17 552.41,242.42 552.81,242.68 553.21,242.95 553.60,243.22 554.00,243.49 554.40,243.76 554.80,244.04 555.20,244.32 555.60,244.60 556.00,244.88 556.39,245.15 556.79,245.42 557.19,245.68 557.59,245.93 557.99,246.17 558.39,246.40 558.79,246.62 559.18,246.82 559.58,247.00 559.98,247.16 560.38,247.32 560.78,247.46 561.18,247.58 561.58,247.70 561.97,247.81 562.37,247.91 562.77,248.01 563.17,248.10 563.57,248.19 563.97,248.27 564.37,248.36 564.76,248.44 565.16,248.53 565.56,248.61 565.96,248.70 566.36,248.78 566.76,248.87 567.16,248.95 567.55,249.03 567.95,249.11 568.35,249.19 568.75,249.27 569.15,249.35 569.55,249.42 569.95,249.50 570.34,249.57 570.74,249.64 571.14,249.71 571.54,249.78 571.94,249.84 572.34,249.91 572.74,249.97 573.13,250.04 573.53,250.10 573.93,250.16 574.33,250.22 574.73,250.28 575.13,250.34 575.52,250.40 575.92,250.45 576.32,250.51 576.72,250.56 577.12,250.61 577.52,250.66 577.92,250.71 578.31,250.76 578.71,250.80 579.11,250.85 579.51,250.89 579.91,250.93 580.31,250.97 580.71,251.00 581.10,251.04 581.50,251.08 581.90,251.11 582.30,251.15 582.70,251.18 583.10,251.22 583.50,251.26 583.89,251.30 584.29,251.34 584.69,251.38 585.09,251.42 585.49,251.47 585.89,251.51 586.29,251.55 586.68,251.59 587.08,251.63 587.48,251.67 587.88,251.71 588.28,251.74 588.68,251.76 589.08,251.79 589.47,251.80 589.87,251.82 590.27,251.82 590.67,251.83 591.07,251.83 591.47,251.83 591.87,251.83 592.26,251.82 592.66,251.81 593.06,251.81 593.46,251.80 593.86,251.79 594.26,251.78 594.66,251.78 595.05,251.77 595.45,251.76 595.85,251.76 596.25,251.75 596.65,251.74 597.05,251.74 597.45,251.73 597.84,251.72 598.24,251.71 598.64,251.70 599.04,251.69 599.44,251.68 599.84,251.67 600.24,251.65 600.63,251.64 601.03,251.62 601.43,251.61 601.83,251.59 602.23,251.57 602.63,251.56 603.03,251.54 603.42,251.52 603.82,251.50 604.22,251.49 604.62,251.47 605.02,251.45 605.42,251.43 605.82,251.42 606.21,251.40 606.61,251.39 607.01,251.37 607.41,251.36 607.81,251.35 608.21,251.34 608.61,251.33 609.00,251.32 609.40,251.31 609.80,251.30 610.20,251.30 610.60,251.30 611.00,251.29 611.40,251.29 611.79,251.29 612.19,251.29 612.59,251.30 612.99,251.30 613.39,251.30 613.79,251.31 614.19,251.31 614.58,251.32 614.98,251.32 615.38,251.33 615.78,251.34 616.18,251.35 616.58,251.36 616.98,251.36 617.37,251.37 617.77,251.38 618.17,251.39 618.57,251.40 618.97,251.41 619.37,251.42 619.77,251.43 620.16,251.44 620.56,251.45 620.96,251.46 621.36,251.47 621.76,251.48 622.16,251.49 622.56,251.50 622.95,251.50 623.35,251.51 623.75,251.52 624.15,251.53 624.55,251.54 624.95,251.55 625.34,251.56 625.74,251.57 626.14,251.58 626.54,251.59 626.94,251.60 627.34,251.61 627.74,251.62 628.13,251.63 628.53,251.64 628.93,251.65 629.33,251.66 629.73,251.68 630.13,251.69 630.53,251.70 630.92,251.71 631.32,251.72 631.72,251.73 632.12,251.74 632.52,251.75 632.92,251.77 633.32,251.78 633.71,251.79 634.11,251.80 634.51,251.82 634.91,251.83 635.31,251.84 635.71,251.86 636.11,251.87 636.50,251.88 636.90,251.90 637.30,251.91 637.70,251.93 638.10,251.94 638.50,251.96 638.90,251.97 639.29,251.99 639.69,252.01 640.09,252.02 640.49,252.04 640.89,252.06 641.29,252.07 641.69,252.09 642.08,252.11 642.48,252.12 642.88,252.14 643.28,252.16 643.68,252.18 644.08,252.20 644.48,252.22 644.87,252.23 645.27,252.25 645.67,252.27 646.07,252.29 646.47,252.31 646.87,252.33 647.27,252.35 647.66,252.37 648.06,252.39 648.46,252.41 648.86,252.43 649.26,252.45 649.66,252.47 650.06,252.49 650.45,252.51 650.85,252.53 651.25,252.55 651.65,252.57 652.05,252.59 652.45,252.61 652.85,252.63 653.24,252.65 653.64,252.67 654.04,252.68 654.44,252.70 654.84,252.72 655.24,252.74 655.64,252.76 656.03,252.78 656.43,252.80 656.83,252.82 657.23,252.84 657.63,252.86 658.03,252.88 658.43,252.89 658.82,252.91 659.22,252.93 659.62,252.95 660.02,252.96 660.42,252.98 660.82,253.00 661.22,253.02 661.61,253.03 662.01,253.05 662.41,253.07 662.81,253.08 663.21,253.10 663.61,253.12 664.01,253.13 664.40,253.15 664.80,253.16 665.20,253.18 665.60,253.20 666.00,253.21 666.40,253.23 666.80,253.24 667.19,253.26 667.59,253.27 667.99,253.29 668.39,253.30 668.79,253.32 669.19,253.33 669.59,253.34 669.98,253.36 670.38,253.37 670.78,253.39 671.18,253.40 671.58,253.42 671.98,253.43 672.38,253.44 672.77,253.46 673.17,253.47 673.57,253.49 673.97,253.50 674.37,253.51 674.77,253.53 675.16,253.54 675.56,253.55 675.96,253.57 676.36,253.58 676.76,253.59 677.16,253.61 677.56,253.62 677.95,253.63 678.35,253.65 678.75,253.66" stroke="#00ff00" stroke-width="2.6" fill="none" stroke-linejoin="round"/></g>
<rect x="499.40" y="156.40" width="179.35" height="112.55" stroke="#000" stroke-width="1.45" fill="none"/>
<path d="M499.40 268.95h5.0M499.40 264.26h2.5M499.40 259.57h2.5M499.40 254.88h2.5M499.40 250.19h5.0M499.40 245.50h2.5M499.40 240.81h2.5M499.40 236.12h2.5M499.40 231.43h5.0M499.40 226.74h2.5M499.40 222.05h2.5M499.40 217.36h2.5M499.40 212.67h5.0M499.40 207.99h2.5M499.40 203.30h2.5M499.40 198.61h2.5M499.40 193.92h5.0M499.40 189.23h2.5M499.40 184.54h2.5M499.40 179.85h2.5M499.40 175.16h5.0M499.40 170.47h2.5M499.40 165.78h2.5M499.40 161.09h2.5M499.40 156.40h5.0M509.36 268.95v-1.6M519.33 268.95v-3.2M529.29 268.95v-1.6M539.26 268.95v-1.6M549.22 268.95v-1.6M559.18 268.95v-3.2M569.15 268.95v-1.6M579.11 268.95v-1.6M589.08 268.95v-1.6M599.04 268.95v-3.2M609.00 268.95v-1.6M618.97 268.95v-1.6M628.93 268.95v-1.6M638.90 268.95v-3.2M648.86 268.95v-1.6M658.82 268.95v-1.6M668.79 268.95v-1.6" stroke="#000" stroke-width="1.2" fill="none"/>
<text x="489.12" y="273.25" font-size="12.2" font-family="Liberation Sans, sans-serif">0</text>
<text x="489.12" y="254.49" font-size="12.2" font-family="Liberation Sans, sans-serif">2</text>
<text x="489.12" y="235.73" font-size="12.2" font-family="Liberation Sans, sans-serif">4</text>
<text x="489.12" y="216.97" font-size="12.2" font-family="Liberation Sans, sans-serif">6</text>
<text x="489.12" y="198.22" font-size="12.2" font-family="Liberation Sans, sans-serif">8</text>
<path transform="translate(482.33 179.46) scale(12.2 -12.2)" d="M0.290 0L0.378 0L0.378 0.703L0.306 0.703C0.290 0.628 0.228 0.592 0.105 0.588L0.105 0.527L0.290 0.527Z"/>
<text x="489.12" y="179.46" font-size="12.2" font-family="Liberation Sans, sans-serif">0</text>
<path transform="translate(482.33 160.70) scale(12.2 -12.2)" d="M0.290 0L0.378 0L0.378 0.703L0.306 0.703C0.290 0.628 0.228 0.592 0.105 0.588L0.105 0.527L0.290 0.527Z"/>
<text x="489.12" y="160.70" font-size="12.2" font-family="Liberation Sans, sans-serif">2</text>
<text x="515.94" y="280.85" font-size="12.2" font-family="Liberation Sans, sans-serif">2</text>
<text x="555.79" y="280.85" font-size="12.2" font-family="Liberation Sans, sans-serif">4</text>
<text x="595.65" y="280.85" font-size="12.2" font-family="Liberation Sans, sans-serif">6</text>
<text x="635.50" y="280.85" font-size="12.2" font-family="Liberation Sans, sans-serif">8</text>
<path transform="translate(671.97 280.85) scale(12.2 -12.2)" d="M0.290 0L0.378 0L0.378 0.703L0.306 0.703C0.290 0.628 0.228 0.592 0.105 0.588L0.105 0.527L0.290 0.527Z"/>
<text x="678.75" y="280.85" font-size="12.2" font-family="Liberation Sans, sans-serif">0</text>
<text x="678.85" y="291.15" text-anchor="end" font-size="13.3" font-family="Liberation Sans, sans-serif">energy (keV)</text>
<text transform="translate(475.90 153.80) rotate(-90) scale(1 1.07)" text-anchor="end" font-size="13.25" font-family="Liberation Sans, sans-serif">Rate (c/keV/kg/day)</text>
<rect x="597.40" y="166.20" width="77.10" height="42.70" rx="0.8" fill="#fff" stroke="#000" stroke-width="1.1"/>
<path d="M600.60 176.90h13.4M607.20 170.30v13.2" stroke="#0000ff" stroke-width="1.9" fill="none"/>
<path d="M600.60 198.20h13.4" stroke="#00ff00" stroke-width="2.2" fill="none"/>
<text x="616.80" y="179.80" font-size="9.2" font-family="Liberation Sans, sans-serif">D5 data</text>
<text x="616.80" y="201.60" font-size="9.2" font-family="Liberation Sans, sans-serif">D5 sim</text>
<clipPath id="clip6"><rect x="33.30" y="308.20" width="179.35" height="112.55"/></clipPath>
<path d="M53.23 308.35V420.75M93.08 308.35V420.75M132.94 308.35V420.75M172.80 308.35V420.75M33.95 401.99H212.65M33.95 383.23H212.65M33.95 364.48H212.65M33.95 345.72H212.65M33.95 326.96H212.65" stroke="#000" stroke-width="1.15" stroke-dasharray="1.3 2.4" fill="none"/>
<g clip-path="url(#clip6)"><path d="M33.10 398.99H35.49V404.99H33.10ZM35.09 390.67H37.49V395.87H35.09ZM37.09 381.77H39.48V386.57H37.09ZM39.08 385.92H41.47V389.92H39.08ZM41.07 385.57H43.46V388.97H41.07ZM43.06 385.57H45.46V388.97H43.06ZM45.06 388.66H47.45V392.06H45.06ZM47.05 393.26H49.44V396.46H47.05ZM49.04 390.64H51.44V393.84H49.04ZM51.04 391.20H53.43V394.40H51.04ZM53.03 391.67H55.42V394.87H53.03ZM55.02 392.61H57.41V395.81H55.02ZM57.01 391.67H59.41V394.87H57.01ZM59.01 390.64H61.40V393.84H59.01ZM61.00 391.67H63.39V394.87H61.00ZM62.99 388.39H65.38V391.59H62.99ZM64.98 388.57H67.38V391.77H64.98ZM66.98 389.61H69.37V392.81H66.98ZM68.97 387.45H71.36V390.65H68.97ZM70.96 388.57H73.36V391.77H70.96ZM72.96 385.67H75.35V388.87H72.96ZM74.95 385.85H77.34V389.05H74.95ZM76.94 385.20H79.33V388.40H76.94ZM78.93 386.14H81.33V389.34H78.93ZM80.93 387.26H83.32V390.46H80.93ZM82.92 388.20H85.31V391.40H82.92ZM84.91 388.76H87.31V391.96H84.91ZM86.91 390.07H89.30V393.27H86.91ZM88.90 391.95H91.29V395.15H88.90ZM90.89 393.83H93.28V397.03H90.89ZM92.88 394.59H95.28V397.39H92.88ZM94.88 393.74H97.27V396.54H94.88ZM96.87 395.06H99.26V397.86H96.87ZM98.86 395.34H101.26V398.14H98.86ZM100.86 397.40H103.25V400.20H100.86ZM102.85 398.62H105.24V401.42H102.85ZM104.84 399.00H107.23V401.80H104.84ZM106.83 399.47H109.23V402.27H106.83ZM108.83 399.47H111.22V402.27H108.83ZM110.82 397.78H113.21V400.58H110.82ZM112.81 399.47H115.20V402.27H112.81ZM114.80 398.72H117.20V401.52H114.80ZM116.80 398.34H119.19V401.14H116.80ZM118.79 399.47H121.18V402.27H118.79ZM120.78 402.94H123.18V405.74H120.78ZM122.78 400.78H125.17V403.58H122.78ZM124.77 402.66H127.16V405.46H124.77ZM126.76 400.78H129.15V403.58H126.76ZM128.75 402.47H131.15V405.27H128.75ZM130.75 402.47H133.14V405.27H130.75ZM132.74 401.62H135.13V404.42H132.74ZM134.73 402.47H137.13V405.27H134.73ZM136.73 404.34H139.12V407.14H136.73ZM138.72 403.41H141.11V406.21H138.72ZM140.71 401.25H143.10V404.05H140.71ZM142.70 402.66H145.10V405.46H142.70ZM144.70 402.47H147.09V405.27H144.70ZM146.69 401.62H149.08V404.42H146.69ZM148.68 403.12H151.08V405.92H148.68ZM150.68 404.53H153.07V407.33H150.68ZM152.67 403.41H155.06V406.21H152.67ZM154.66 401.62H157.05V404.42H154.66ZM156.65 403.41H159.05V406.21H156.65ZM158.65 404.91H161.04V407.71H158.65ZM160.64 403.87H163.03V406.67H160.64ZM162.63 401.62H165.02V404.42H162.63ZM164.62 405.56H167.02V408.36H164.62ZM166.62 403.87H169.01V406.67H166.62ZM168.61 404.72H171.00V407.52H168.61ZM170.60 405.56H173.00V408.36H170.60ZM172.60 404.34H174.99V407.14H172.60ZM174.59 403.41H176.98V406.21H174.59ZM176.58 401.62H178.97V404.42H176.58ZM178.57 403.41H180.97V406.21H178.57ZM180.57 403.87H182.96V406.67H180.57ZM182.56 403.87H184.95V406.67H182.56ZM184.55 404.25H186.95V407.05H184.55ZM186.55 402.94H188.94V405.74H186.55ZM188.54 404.53H190.93V407.33H188.54ZM190.53 402.94H192.92V405.74H190.53ZM192.52 404.72H194.92V407.52H192.52ZM194.52 404.72H196.91V407.52H194.52ZM196.51 404.53H198.90V407.33H196.51ZM198.50 403.87H200.90V406.67H198.50ZM200.50 403.41H202.89V406.21H200.50ZM202.49 405.09H204.88V407.89H202.49ZM204.48 403.87H206.87V406.67H204.48ZM206.47 403.87H208.87V406.67H206.47ZM208.47 404.25H210.86V407.05H208.47ZM210.46 405.09H212.85V407.89H210.46Z" fill="#0000ff"/>
<polyline points="33.30,399.83 33.70,399.97 34.10,400.11 34.50,400.25 34.89,400.38 35.29,400.52 35.69,400.66 36.09,400.79 36.49,400.93 36.89,401.06 37.29,401.19 37.68,401.33 38.08,401.46 38.48,401.59 38.88,401.72 39.28,401.84 39.68,401.97 40.08,402.09 40.47,402.22 40.87,402.34 41.27,402.46 41.67,402.57 42.07,402.69 42.47,402.80 42.87,402.91 43.26,403.02 43.66,403.13 44.06,403.23 44.46,403.34 44.86,403.44 45.26,403.53 45.66,403.63 46.05,403.72 46.45,403.80 46.85,403.89 47.25,403.97 47.65,404.04 48.05,404.11 48.45,404.18 48.84,404.25 49.24,404.30 49.64,404.36 50.04,404.41 50.44,404.45 50.84,404.49 51.24,404.53 51.63,404.56 52.03,404.58 52.43,404.60 52.83,404.61 53.23,404.62 53.63,404.62 54.03,404.61 54.42,404.59 54.82,404.57 55.22,404.53 55.62,404.48 56.02,404.42 56.42,404.34 56.82,404.25 57.21,404.14 57.61,404.01 58.01,403.86 58.41,403.69 58.81,403.49 59.21,403.28 59.60,403.05 60.00,402.80 60.40,402.53 60.80,402.24 61.20,401.94 61.60,401.62 62.00,401.29 62.39,400.94 62.79,400.58 63.19,400.21 63.59,399.83 63.99,399.43 64.39,399.03 64.79,398.63 65.18,398.21 65.58,397.80 65.98,397.38 66.38,396.97 66.78,396.55 67.18,396.14 67.58,395.74 67.97,395.34 68.37,394.95 68.77,394.57 69.17,394.20 69.57,393.84 69.97,393.50 70.37,393.16 70.76,392.83 71.16,392.52 71.56,392.21 71.96,391.92 72.36,391.64 72.76,391.37 73.16,391.11 73.55,390.87 73.95,390.64 74.35,390.42 74.75,390.22 75.15,390.04 75.55,389.88 75.95,389.73 76.34,389.61 76.74,389.50 77.14,389.42 77.54,389.37 77.94,389.34 78.34,389.33 78.74,389.35 79.13,389.40 79.53,389.47 79.93,389.56 80.33,389.67 80.73,389.80 81.13,389.95 81.53,390.12 81.92,390.30 82.32,390.50 82.72,390.70 83.12,390.92 83.52,391.15 83.92,391.39 84.32,391.64 84.71,391.90 85.11,392.16 85.51,392.43 85.91,392.71 86.31,392.99 86.71,393.28 87.11,393.57 87.50,393.86 87.90,394.15 88.30,394.45 88.70,394.74 89.10,395.04 89.50,395.33 89.90,395.62 90.29,395.91 90.69,396.19 91.09,396.46 91.49,396.72 91.89,396.98 92.29,397.22 92.69,397.46 93.08,397.68 93.48,397.88 93.88,398.08 94.28,398.26 94.68,398.43 95.08,398.59 95.48,398.74 95.87,398.89 96.27,399.03 96.67,399.17 97.07,399.31 97.47,399.44 97.87,399.58 98.27,399.72 98.66,399.85 99.06,399.99 99.46,400.13 99.86,400.27 100.26,400.41 100.66,400.55 101.06,400.69 101.45,400.82 101.85,400.96 102.25,401.09 102.65,401.21 103.05,401.34 103.45,401.45 103.85,401.57 104.24,401.68 104.64,401.78 105.04,401.88 105.44,401.98 105.84,402.08 106.24,402.17 106.64,402.26 107.03,402.35 107.43,402.43 107.83,402.51 108.23,402.59 108.63,402.67 109.03,402.75 109.42,402.82 109.82,402.90 110.22,402.97 110.62,403.03 111.02,403.10 111.42,403.16 111.82,403.23 112.21,403.29 112.61,403.34 113.01,403.40 113.41,403.45 113.81,403.50 114.21,403.55 114.61,403.60 115.00,403.65 115.40,403.69 115.80,403.73 116.20,403.78 116.60,403.82 117.00,403.86 117.40,403.90 117.79,403.94 118.19,403.98 118.59,404.02 118.99,404.06 119.39,404.10 119.79,404.14 120.19,404.18 120.58,404.22 120.98,404.25 121.38,404.29 121.78,404.33 122.18,404.36 122.58,404.40 122.98,404.43 123.37,404.46 123.77,404.49 124.17,404.52 124.57,404.55 124.97,404.58 125.37,404.60 125.77,404.62 126.16,404.64 126.56,404.66 126.96,404.68 127.36,404.69 127.76,404.71 128.16,404.72 128.56,404.72 128.95,404.73 129.35,404.73 129.75,404.73 130.15,404.73 130.55,404.73 130.95,404.73 131.35,404.73 131.74,404.72 132.14,404.72 132.54,404.72 132.94,404.71 133.34,404.71 133.74,404.70 134.14,404.70 134.53,404.70 134.93,404.70 135.33,404.69 135.73,404.69 136.13,404.69 136.53,404.69 136.93,404.69 137.32,404.69 137.72,404.69 138.12,404.69 138.52,404.69 138.92,404.69 139.32,404.69 139.72,404.69 140.11,404.69 140.51,404.69 140.91,404.69 141.31,404.70 141.71,404.70 142.11,404.70 142.51,404.71 142.90,404.71 143.30,404.72 143.70,404.72 144.10,404.73 144.50,404.73 144.90,404.74 145.30,404.74 145.69,404.75 146.09,404.76 146.49,404.76 146.89,404.77 147.29,404.78 147.69,404.78 148.09,404.79 148.48,404.80 148.88,404.81 149.28,404.82 149.68,404.83 150.08,404.83 150.48,404.84 150.88,404.85 151.27,404.86 151.67,404.87 152.07,404.88 152.47,404.89 152.87,404.90 153.27,404.91 153.67,404.92 154.06,404.93 154.46,404.94 154.86,404.95 155.26,404.96 155.66,404.97 156.06,404.98 156.46,404.99 156.85,405.00 157.25,405.01 157.65,405.02 158.05,405.03 158.45,405.04 158.85,405.05 159.24,405.06 159.64,405.07 160.04,405.08 160.44,405.09 160.84,405.11 161.24,405.12 161.64,405.13 162.03,405.14 162.43,405.15 162.83,405.16 163.23,405.17 163.63,405.18 164.03,405.19 164.43,405.21 164.82,405.22 165.22,405.23 165.62,405.24 166.02,405.25 166.42,405.26 166.82,405.28 167.22,405.29 167.61,405.30 168.01,405.31 168.41,405.32 168.81,405.34 169.21,405.35 169.61,405.36 170.01,405.37 170.40,405.39 170.80,405.40 171.20,405.41 171.60,405.42 172.00,405.44 172.40,405.45 172.80,405.46 173.19,405.47 173.59,405.49 173.99,405.50 174.39,405.51 174.79,405.53 175.19,405.54 175.59,405.55 175.98,405.57 176.38,405.58 176.78,405.59 177.18,405.61 177.58,405.62 177.98,405.63 178.38,405.65 178.77,405.66 179.17,405.67 179.57,405.69 179.97,405.70 180.37,405.71 180.77,405.73 181.17,405.74 181.56,405.75 181.96,405.77 182.36,405.78 182.76,405.79 183.16,405.81 183.56,405.82 183.96,405.83 184.35,405.85 184.75,405.86 185.15,405.87 185.55,405.89 185.95,405.90 186.35,405.91 186.75,405.93 187.14,405.94 187.54,405.95 187.94,405.97 188.34,405.98 188.74,405.99 189.14,406.00 189.54,406.02 189.93,406.03 190.33,406.04 190.73,406.06 191.13,406.07 191.53,406.08 191.93,406.09 192.33,406.11 192.72,406.12 193.12,406.13 193.52,406.14 193.92,406.16 194.32,406.17 194.72,406.18 195.12,406.19 195.51,406.20 195.91,406.22 196.31,406.23 196.71,406.24 197.11,406.25 197.51,406.26 197.91,406.27 198.30,406.29 198.70,406.30 199.10,406.31 199.50,406.32 199.90,406.33 200.30,406.34 200.70,406.35 201.09,406.37 201.49,406.38 201.89,406.39 202.29,406.40 202.69,406.41 203.09,406.42 203.49,406.43 203.88,406.44 204.28,406.46 204.68,406.47 205.08,406.48 205.48,406.49 205.88,406.50 206.28,406.51 206.67,406.52 207.07,406.53 207.47,406.54 207.87,406.55 208.27,406.56 208.67,406.57 209.06,406.59 209.46,406.60 209.86,406.61 210.26,406.62 210.66,406.63 211.06,406.64 211.46,406.65 211.85,406.66 212.25,406.67 212.65,406.68" stroke="#00ff00" stroke-width="2.6" fill="none" stroke-linejoin="round"/></g>
<rect x="33.30" y="308.20" width="179.35" height="112.55" stroke="#000" stroke-width="1.45" fill="none"/>
<path d="M33.30 420.75h5.0M33.30 416.06h2.5M33.30 411.37h2.5M33.30 406.68h2.5M33.30 401.99h5.0M33.30 397.30h2.5M33.30 392.61h2.5M33.30 387.92h2.5M33.30 383.23h5.0M33.30 378.54h2.5M33.30 373.85h2.5M33.30 369.16h2.5M33.30 364.48h5.0M33.30 359.79h2.5M33.30 355.10h2.5M33.30 350.41h2.5M33.30 345.72h5.0M33.30 341.03h2.5M33.30 336.34h2.5M33.30 331.65h2.5M33.30 326.96h5.0M33.30 322.27h2.5M33.30 317.58h2.5M33.30 312.89h2.5M33.30 308.20h5.0M43.26 420.75v-1.6M53.23 420.75v-3.2M63.19 420.75v-1.6M73.16 420.75v-1.6M83.12 420.75v-1.6M93.08 420.75v-3.2M103.05 420.75v-1.6M113.01 420.75v-1.6M122.98 420.75v-1.6M132.94 420.75v-3.2M142.90 420.75v-1.6M152.87 420.75v-1.6M162.83 420.75v-1.6M172.80 420.75v-3.2M182.76 420.75v-1.6M192.72 420.75v-1.6M202.69 420.75v-1.6" stroke="#000" stroke-width="1.2" fill="none"/>
<text x="23.02" y="425.05" font-size="12.2" font-family="Liberation Sans, sans-serif">0</text>
<text x="23.02" y="406.29" font-size="12.2" font-family="Liberation Sans, sans-serif">2</text>
<text x="23.02" y="387.53" font-size="12.2" font-family="Liberation Sans, sans-serif">4</text>
<text x="23.02" y="368.78" font-size="12.2" font-family="Liberation Sans, sans-serif">6</text>
<text x="23.02" y="350.02" font-size="12.2" font-family="Liberation Sans, sans-serif">8</text>
<path transform="translate(16.23 331.26) scale(12.2 -12.2)" d="M0.290 0L0.378 0L0.378 0.703L0.306 0.703C0.290 0.628 0.228 0.592 0.105 0.588L0.105 0.527L0.290 0.527Z"/>
<text x="23.02" y="331.26" font-size="12.2" font-family="Liberation Sans, sans-serif">0</text>
<path transform="translate(16.23 312.50) scale(12.2 -12.2)" d="M0.290 0L0.378 0L0.378 0.703L0.306 0.703C0.290 0.628 0.228 0.592 0.105 0.588L0.105 0.527L0.290 0.527Z"/>
<text x="23.02" y="312.50" font-size="12.2" font-family="Liberation Sans, sans-serif">2</text>
<text x="49.84" y="432.65" font-size="12.2" font-family="Liberation Sans, sans-serif">2</text>
<text x="89.69" y="432.65" font-size="12.2" font-family="Liberation Sans, sans-serif">4</text>
<text x="129.55" y="432.65" font-size="12.2" font-family="Liberation Sans, sans-serif">6</text>
<text x="169.40" y="432.65" font-size="12.2" font-family="Liberation Sans, sans-serif">8</text>
<path transform="translate(205.87 432.65) scale(12.2 -12.2)" d="M0.290 0L0.378 0L0.378 0.703L0.306 0.703C0.290 0.628 0.228 0.592 0.105 0.588L0.105 0.527L0.290 0.527Z"/>
<text x="212.65" y="432.65" font-size="12.2" font-family="Liberation Sans, sans-serif">0</text>
<text x="212.75" y="442.95" text-anchor="end" font-size="13.3" font-family="Liberation Sans, sans-serif">energy (keV)</text>
<text transform="translate(9.80 305.60) rotate(-90) scale(1 1.07)" text-anchor="end" font-size="13.25" font-family="Liberation Sans, sans-serif">Rate (c/keV/kg/day)</text>
<rect x="131.30" y="318.00" width="77.10" height="42.70" rx="0.8" fill="#fff" stroke="#000" stroke-width="1.1"/>
<path d="M134.50 328.70h13.4M141.10 322.10v13.2" stroke="#0000ff" stroke-width="1.9" fill="none"/>
<path d="M134.50 350.00h13.4" stroke="#00ff00" stroke-width="2.2" fill="none"/>
<text x="150.70" y="331.60" font-size="9.2" font-family="Liberation Sans, sans-serif">D6 data</text>
<text x="150.70" y="353.40" font-size="9.2" font-family="Liberation Sans, sans-serif">D6 sim</text>
<clipPath id="clip7"><rect x="266.30" y="308.20" width="179.35" height="112.55"/></clipPath>
<path d="M286.23 308.35V420.75M326.08 308.35V420.75M365.94 308.35V420.75M405.80 308.35V420.75M266.95 401.99H445.65M266.95 383.23H445.65M266.95 364.48H445.65M266.95 345.72H445.65M266.95 326.96H445.65" stroke="#000" stroke-width="1.15" stroke-dasharray="1.3 2.4" fill="none"/>
<g clip-path="url(#clip7)"><path d="M266.10 391.01H268.49V397.41H266.10ZM268.09 392.08H270.49V397.28H268.09ZM270.09 385.72H272.48V390.12H270.09ZM272.08 387.44H274.47V391.04H272.08ZM274.07 388.39H276.46V391.59H274.07ZM276.06 389.14H278.46V392.34H276.06ZM278.06 392.14H280.45V395.34H278.06ZM280.05 391.48H282.44V394.68H280.05ZM282.04 390.73H284.44V393.93H282.04ZM284.04 393.45H286.43V396.65H284.04ZM286.03 391.95H288.42V395.15H286.03ZM288.02 393.92H290.41V397.12H288.02ZM290.01 392.51H292.41V395.71H290.01ZM292.01 393.45H294.40V396.65H292.01ZM294.00 393.64H296.39V396.84H294.00ZM295.99 395.05H298.38V398.25H295.99ZM297.98 391.48H300.38V394.68H297.98ZM299.98 387.64H302.37V390.84H299.98ZM301.97 390.73H304.36V393.93H301.97ZM303.96 386.32H306.36V389.52H303.96ZM305.96 388.95H308.35V392.15H305.96ZM307.95 387.73H310.34V390.93H307.95ZM309.94 386.32H312.33V389.52H309.94ZM311.93 389.70H314.33V392.90H311.93ZM313.93 390.07H316.32V393.27H313.93ZM315.92 389.14H318.31V392.34H315.92ZM317.91 389.42H320.31V392.62H317.91ZM319.91 390.73H322.30V393.93H319.91ZM321.90 392.42H324.29V395.62H321.90ZM323.89 393.26H326.28V396.46H323.89ZM325.88 395.90H328.28V398.70H325.88ZM327.88 398.34H330.27V401.14H327.88ZM329.87 398.72H332.26V401.52H329.87ZM331.86 398.06H334.26V400.86H331.86ZM333.86 400.87H336.25V403.67H333.86ZM335.85 399.47H338.24V402.27H335.85ZM337.84 399.65H340.23V402.45H337.84ZM339.83 401.06H342.23V403.86H339.83ZM341.83 402.94H344.22V405.74H341.83ZM343.82 401.53H346.21V404.33H343.82ZM345.81 403.87H348.20V406.67H345.81ZM347.80 401.62H350.20V404.42H347.80ZM349.80 402.00H352.19V404.80H349.80ZM351.79 403.41H354.18V406.21H351.79ZM353.78 403.41H356.18V406.21H353.78ZM355.78 402.00H358.17V404.80H355.78ZM357.77 403.41H360.16V406.21H357.77ZM359.76 404.34H362.15V407.14H359.76ZM361.75 402.47H364.15V405.27H361.75ZM363.75 405.09H366.14V407.89H363.75ZM365.74 401.90H368.13V404.70H365.74ZM367.73 402.00H370.13V404.80H367.73ZM369.73 404.72H372.12V407.52H369.73ZM371.72 404.34H374.11V407.14H371.72ZM373.71 404.34H376.10V407.14H373.71ZM375.70 402.47H378.10V405.27H375.70ZM377.70 405.09H380.09V407.89H377.70ZM379.69 405.56H382.08V408.36H379.69ZM381.68 404.34H384.08V407.14H381.68ZM383.68 406.03H386.07V408.83H383.68ZM385.67 406.03H388.06V408.83H385.67ZM387.66 405.56H390.05V408.36H387.66ZM389.65 405.56H392.05V408.36H389.65ZM391.65 405.09H394.04V407.89H391.65ZM393.64 405.56H396.03V408.36H393.64ZM395.63 406.03H398.02V408.83H395.63ZM397.62 406.50H400.02V409.30H397.62ZM399.62 405.56H402.01V408.36H399.62ZM401.61 405.09H404.00V407.89H401.61ZM403.60 406.03H406.00V408.83H403.60ZM405.60 406.50H407.99V409.30H405.60ZM407.59 406.03H409.98V408.83H407.59ZM409.58 405.09H411.97V407.89H409.58ZM411.57 405.75H413.97V408.55H411.57ZM413.57 405.56H415.96V408.36H413.57ZM415.56 405.09H417.95V407.89H415.56ZM417.55 403.41H419.95V406.21H417.55ZM419.55 406.88H421.94V409.68H419.55ZM421.54 406.03H423.93V408.83H421.54ZM423.53 405.28H425.92V408.08H423.53ZM425.52 405.09H427.92V407.89H425.52ZM427.52 406.50H429.91V409.30H427.52ZM429.51 406.03H431.90V408.83H429.51ZM431.50 403.87H433.90V406.67H431.50ZM433.50 406.88H435.89V409.68H433.50ZM435.49 406.88H437.88V409.68H435.49ZM437.48 407.81H439.87V410.61H437.48ZM439.47 406.50H441.87V409.30H439.47ZM441.47 404.34H443.86V407.14H441.47ZM443.46 406.69H445.85V409.49H443.46Z" fill="#0000ff"/>
<polyline points="266.30,399.83 266.70,399.97 267.10,400.11 267.50,400.25 267.89,400.38 268.29,400.52 268.69,400.66 269.09,400.79 269.49,400.93 269.89,401.06 270.29,401.19 270.68,401.33 271.08,401.46 271.48,401.59 271.88,401.72 272.28,401.84 272.68,401.97 273.08,402.09 273.47,402.22 273.87,402.34 274.27,402.46 274.67,402.58 275.07,402.69 275.47,402.80 275.87,402.91 276.26,403.02 276.66,403.13 277.06,403.23 277.46,403.33 277.86,403.43 278.26,403.53 278.66,403.62 279.05,403.71 279.45,403.80 279.85,403.88 280.25,403.96 280.65,404.04 281.05,404.11 281.45,404.18 281.84,404.25 282.24,404.32 282.64,404.38 283.04,404.43 283.44,404.48 283.84,404.52 284.24,404.56 284.63,404.59 285.03,404.61 285.43,404.62 285.83,404.62 286.23,404.62 286.63,404.60 287.03,404.58 287.42,404.54 287.82,404.49 288.22,404.44 288.62,404.37 289.02,404.28 289.42,404.19 289.82,404.08 290.21,403.96 290.61,403.82 291.01,403.67 291.41,403.50 291.81,403.32 292.21,403.12 292.60,402.91 293.00,402.69 293.40,402.45 293.80,402.20 294.20,401.93 294.60,401.65 295.00,401.35 295.39,401.05 295.79,400.73 296.19,400.40 296.59,400.05 296.99,399.70 297.39,399.34 297.79,398.96 298.18,398.59 298.58,398.20 298.98,397.82 299.38,397.43 299.78,397.04 300.18,396.66 300.58,396.27 300.97,395.89 301.37,395.52 301.77,395.16 302.17,394.80 302.57,394.45 302.97,394.10 303.37,393.77 303.76,393.44 304.16,393.12 304.56,392.81 304.96,392.51 305.36,392.22 305.76,391.94 306.16,391.67 306.55,391.42 306.95,391.17 307.35,390.94 307.75,390.72 308.15,390.52 308.55,390.33 308.95,390.16 309.34,390.01 309.74,389.88 310.14,389.78 310.54,389.69 310.94,389.63 311.34,389.60 311.74,389.59 312.13,389.60 312.53,389.64 312.93,389.70 313.33,389.78 313.73,389.89 314.13,390.01 314.53,390.16 314.92,390.32 315.32,390.51 315.72,390.71 316.12,390.92 316.52,391.16 316.92,391.40 317.32,391.66 317.71,391.94 318.11,392.22 318.51,392.51 318.91,392.80 319.31,393.11 319.71,393.41 320.11,393.72 320.50,394.03 320.90,394.34 321.30,394.64 321.70,394.94 322.10,395.24 322.50,395.53 322.90,395.82 323.29,396.10 323.69,396.38 324.09,396.65 324.49,396.91 324.89,397.16 325.29,397.41 325.69,397.64 326.08,397.86 326.48,398.08 326.88,398.28 327.28,398.48 327.68,398.66 328.08,398.84 328.48,399.01 328.87,399.17 329.27,399.32 329.67,399.47 330.07,399.60 330.47,399.74 330.87,399.87 331.27,399.99 331.66,400.11 332.06,400.22 332.46,400.33 332.86,400.44 333.26,400.54 333.66,400.65 334.06,400.75 334.45,400.85 334.85,400.94 335.25,401.04 335.65,401.14 336.05,401.24 336.45,401.34 336.85,401.44 337.24,401.55 337.64,401.65 338.04,401.75 338.44,401.86 338.84,401.96 339.24,402.07 339.64,402.18 340.03,402.28 340.43,402.39 340.83,402.50 341.23,402.61 341.63,402.72 342.03,402.82 342.42,402.93 342.82,403.04 343.22,403.14 343.62,403.24 344.02,403.34 344.42,403.43 344.82,403.53 345.21,403.61 345.61,403.70 346.01,403.77 346.41,403.85 346.81,403.91 347.21,403.98 347.61,404.04 348.00,404.09 348.40,404.14 348.80,404.19 349.20,404.24 349.60,404.28 350.00,404.33 350.40,404.37 350.79,404.41 351.19,404.45 351.59,404.49 351.99,404.53 352.39,404.58 352.79,404.62 353.19,404.66 353.58,404.69 353.98,404.73 354.38,404.77 354.78,404.80 355.18,404.84 355.58,404.87 355.98,404.90 356.37,404.93 356.77,404.95 357.17,404.98 357.57,405.00 357.97,405.02 358.37,405.03 358.77,405.05 359.16,405.06 359.56,405.07 359.96,405.08 360.36,405.08 360.76,405.09 361.16,405.09 361.56,405.09 361.95,405.08 362.35,405.08 362.75,405.07 363.15,405.06 363.55,405.06 363.95,405.05 364.35,405.04 364.74,405.03 365.14,405.01 365.54,405.00 365.94,404.99 366.34,404.98 366.74,404.97 367.14,404.96 367.53,404.95 367.93,404.94 368.33,404.94 368.73,404.93 369.13,404.92 369.53,404.91 369.93,404.90 370.32,404.90 370.72,404.89 371.12,404.88 371.52,404.88 371.92,404.87 372.32,404.86 372.72,404.86 373.11,404.85 373.51,404.84 373.91,404.84 374.31,404.83 374.71,404.82 375.11,404.82 375.51,404.81 375.90,404.81 376.30,404.80 376.70,404.79 377.10,404.79 377.50,404.78 377.90,404.77 378.30,404.77 378.69,404.76 379.09,404.76 379.49,404.75 379.89,404.75 380.29,404.74 380.69,404.74 381.09,404.73 381.48,404.73 381.88,404.72 382.28,404.72 382.68,404.72 383.08,404.71 383.48,404.71 383.88,404.71 384.27,404.71 384.67,404.71 385.07,404.71 385.47,404.71 385.87,404.71 386.27,404.71 386.67,404.72 387.06,404.72 387.46,404.72 387.86,404.73 388.26,404.73 388.66,404.74 389.06,404.75 389.46,404.75 389.85,404.76 390.25,404.77 390.65,404.78 391.05,404.79 391.45,404.79 391.85,404.80 392.24,404.81 392.64,404.83 393.04,404.84 393.44,404.85 393.84,404.86 394.24,404.87 394.64,404.88 395.03,404.90 395.43,404.91 395.83,404.92 396.23,404.94 396.63,404.95 397.03,404.96 397.43,404.98 397.82,404.99 398.22,405.00 398.62,405.02 399.02,405.03 399.42,405.05 399.82,405.06 400.22,405.08 400.61,405.09 401.01,405.11 401.41,405.12 401.81,405.13 402.21,405.15 402.61,405.16 403.01,405.18 403.40,405.19 403.80,405.21 404.20,405.22 404.60,405.23 405.00,405.25 405.40,405.26 405.80,405.27 406.19,405.29 406.59,405.30 406.99,405.31 407.39,405.33 407.79,405.34 408.19,405.35 408.59,405.36 408.98,405.37 409.38,405.38 409.78,405.40 410.18,405.41 410.58,405.42 410.98,405.43 411.38,405.44 411.77,405.45 412.17,405.46 412.57,405.47 412.97,405.48 413.37,405.49 413.77,405.50 414.17,405.51 414.56,405.53 414.96,405.54 415.36,405.55 415.76,405.56 416.16,405.57 416.56,405.58 416.96,405.59 417.35,405.60 417.75,405.61 418.15,405.62 418.55,405.63 418.95,405.64 419.35,405.65 419.75,405.66 420.14,405.67 420.54,405.68 420.94,405.69 421.34,405.70 421.74,405.72 422.14,405.73 422.54,405.74 422.93,405.75 423.33,405.76 423.73,405.77 424.13,405.79 424.53,405.80 424.93,405.81 425.33,405.82 425.72,405.84 426.12,405.85 426.52,405.86 426.92,405.88 427.32,405.89 427.72,405.91 428.12,405.92 428.51,405.93 428.91,405.95 429.31,405.96 429.71,405.98 430.11,405.99 430.51,406.01 430.91,406.03 431.30,406.04 431.70,406.06 432.10,406.07 432.50,406.09 432.90,406.11 433.30,406.12 433.70,406.14 434.09,406.16 434.49,406.17 434.89,406.19 435.29,406.21 435.69,406.22 436.09,406.24 436.49,406.26 436.88,406.28 437.28,406.29 437.68,406.31 438.08,406.33 438.48,406.35 438.88,406.37 439.28,406.38 439.67,406.40 440.07,406.42 440.47,406.44 440.87,406.46 441.27,406.48 441.67,406.49 442.06,406.51 442.46,406.53 442.86,406.55 443.26,406.57 443.66,406.59 444.06,406.61 444.46,406.62 444.85,406.64 445.25,406.66 445.65,406.68" stroke="#00ff00" stroke-width="2.6" fill="none" stroke-linejoin="round"/></g>
<rect x="266.30" y="308.20" width="179.35" height="112.55" stroke="#000" stroke-width="1.45" fill="none"/>
<path d="M266.30 420.75h5.0M266.30 416.06h2.5M266.30 411.37h2.5M266.30 406.68h2.5M266.30 401.99h5.0M266.30 397.30h2.5M266.30 392.61h2.5M266.30 387.92h2.5M266.30 383.23h5.0M266.30 378.54h2.5M266.30 373.85h2.5M266.30 369.16h2.5M266.30 364.48h5.0M266.30 359.79h2.5M266.30 355.10h2.5M266.30 350.41h2.5M266.30 345.72h5.0M266.30 341.03h2.5M266.30 336.34h2.5M266.30 331.65h2.5M266.30 326.96h5.0M266.30 322.27h2.5M266.30 317.58h2.5M266.30 312.89h2.5M266.30 308.20h5.0M276.26 420.75v-1.6M286.23 420.75v-3.2M296.19 420.75v-1.6M306.16 420.75v-1.6M316.12 420.75v-1.6M326.08 420.75v-3.2M336.05 420.75v-1.6M346.01 420.75v-1.6M355.98 420.75v-1.6M365.94 420.75v-3.2M375.90 420.75v-1.6M385.87 420.75v-1.6M395.83 420.75v-1.6M405.80 420.75v-3.2M415.76 420.75v-1.6M425.72 420.75v-1.6M435.69 420.75v-1.6" stroke="#000" stroke-width="1.2" fill="none"/>
<text x="256.02" y="425.05" font-size="12.2" font-family="Liberation Sans, sans-serif">0</text>
<text x="256.02" y="406.29" font-size="12.2" font-family="Liberation Sans, sans-serif">2</text>
<text x="256.02" y="387.53" font-size="12.2" font-family="Liberation Sans, sans-serif">4</text>
<text x="256.02" y="368.78" font-size="12.2" font-family="Liberation Sans, sans-serif">6</text>
<text x="256.02" y="350.02" font-size="12.2" font-family="Liberation Sans, sans-serif">8</text>
<path transform="translate(249.23 331.26) scale(12.2 -12.2)" d="M0.290 0L0.378 0L0.378 0.703L0.306 0.703C0.290 0.628 0.228 0.592 0.105 0.588L0.105 0.527L0.290 0.527Z"/>
<text x="256.02" y="331.26" font-size="12.2" font-family="Liberation Sans, sans-serif">0</text>
<path transform="translate(249.23 312.50) scale(12.2 -12.2)" d="M0.290 0L0.378 0L0.378 0.703L0.306 0.703C0.290 0.628 0.228 0.592 0.105 0.588L0.105 0.527L0.290 0.527Z"/>
<text x="256.02" y="312.50" font-size="12.2" font-family="Liberation Sans, sans-serif">2</text>
<text x="282.84" y="432.65" font-size="12.2" font-family="Liberation Sans, sans-serif">2</text>
<text x="322.69" y="432.65" font-size="12.2" font-family="Liberation Sans, sans-serif">4</text>
<text x="362.55" y="432.65" font-size="12.2" font-family="Liberation Sans, sans-serif">6</text>
<text x="402.40" y="432.65" font-size="12.2" font-family="Liberation Sans, sans-serif">8</text>
<path transform="translate(438.87 432.65) scale(12.2 -12.2)" d="M0.290 0L0.378 0L0.378 0.703L0.306 0.703C0.290 0.628 0.228 0.592 0.105 0.588L0.105 0.527L0.290 0.527Z"/>
<text x="445.65" y="432.65" font-size="12.2" font-family="Liberation Sans, sans-serif">0</text>
<text x="445.75" y="442.95" text-anchor="end" font-size="13.3" font-family="Liberation Sans, sans-serif">energy (keV)</text>
<text transform="translate(242.80 305.60) rotate(-90) scale(1 1.07)" text-anchor="end" font-size="13.25" font-family="Liberation Sans, sans-serif">Rate (c/keV/kg/day)</text>
<rect x="364.30" y="318.00" width="77.10" height="42.70" rx="0.8" fill="#fff" stroke="#000" stroke-width="1.1"/>
<path d="M367.50 328.70h13.4M374.10 322.10v13.2" stroke="#0000ff" stroke-width="1.9" fill="none"/>
<path d="M367.50 350.00h13.4" stroke="#00ff00" stroke-width="2.2" fill="none"/>
<text x="383.70" y="331.60" font-size="9.2" font-family="Liberation Sans, sans-serif">D7 data</text>
<text x="383.70" y="353.40" font-size="9.2" font-family="Liberation Sans, sans-serif">D7 sim</text>
<clipPath id="clip8"><rect x="499.40" y="308.20" width="179.35" height="112.55"/></clipPath>
<path d="M519.33 308.35V420.75M559.18 308.35V420.75M599.04 308.35V420.75M638.90 308.35V420.75M500.05 401.99H678.75M500.05 383.23H678.75M500.05 364.48H678.75M500.05 345.72H678.75M500.05 326.96H678.75" stroke="#000" stroke-width="1.15" stroke-dasharray="1.3 2.4" fill="none"/>
<g clip-path="url(#clip8)"><path d="M499.20 376.92H501.59V386.92H499.20ZM501.19 380.87H503.59V387.47H501.19ZM503.19 388.43H505.58V393.23H503.19ZM505.18 393.72H507.57V397.32H505.18ZM507.17 393.83H509.56V397.03H507.17ZM509.16 395.51H511.56V398.71H509.16ZM511.16 396.17H513.55V399.37H511.16ZM513.15 398.70H515.54V401.90H513.15ZM515.14 397.30H517.54V400.50H515.14ZM517.14 400.20H519.53V403.40H517.14ZM519.13 401.52H521.52V404.72H519.13ZM521.12 400.67H523.51V403.87H521.12ZM523.11 397.77H525.51V400.97H523.11ZM525.11 400.20H527.50V403.40H525.11ZM527.10 398.05H529.49V401.25H527.10ZM529.09 398.05H531.48V401.25H529.09ZM531.08 396.64H533.48V399.84H531.08ZM533.08 396.17H535.47V399.37H533.08ZM535.07 396.45H537.46V399.65H535.07ZM537.06 396.64H539.46V399.84H537.06ZM539.06 398.05H541.45V401.25H539.06ZM541.05 391.48H543.44V394.68H541.05ZM543.04 394.58H545.43V397.78H543.04ZM545.03 391.48H547.43V394.68H545.03ZM547.03 394.48H549.42V397.68H547.03ZM549.02 395.51H551.41V398.71H549.02ZM551.01 395.98H553.41V399.18H551.01ZM553.01 394.20H555.40V397.40H553.01ZM555.00 396.45H557.39V399.65H555.00ZM556.99 396.83H559.38V400.03H556.99ZM558.98 398.72H561.38V401.52H558.98ZM560.98 399.18H563.37V401.98H560.98ZM562.97 402.28H565.36V405.08H562.97ZM564.96 400.59H567.36V403.39H564.96ZM566.96 403.87H569.35V406.67H566.96ZM568.95 403.87H571.34V406.67H568.95ZM570.94 403.41H573.33V406.21H570.94ZM572.93 405.56H575.33V408.36H572.93ZM574.93 403.87H577.32V406.67H574.93ZM576.92 404.72H579.31V407.52H576.92ZM578.91 403.41H581.30V406.21H578.91ZM580.90 403.87H583.30V406.67H580.90ZM582.90 405.47H585.29V408.27H582.90ZM584.89 404.81H587.28V407.61H584.89ZM586.88 403.87H589.28V406.67H586.88ZM588.88 404.34H591.27V407.14H588.88ZM590.87 404.72H593.26V407.52H590.87ZM592.86 405.00H595.25V407.80H592.86ZM594.85 404.81H597.25V407.61H594.85ZM596.85 404.34H599.24V407.14H596.85ZM598.84 406.03H601.23V408.83H598.84ZM600.83 403.69H603.23V406.49H600.83ZM602.83 407.34H605.22V410.14H602.83ZM604.82 406.50H607.21V409.30H604.82ZM606.81 406.88H609.20V409.68H606.81ZM608.80 406.50H611.20V409.30H608.80ZM610.80 407.34H613.19V410.14H610.80ZM612.79 406.88H615.18V409.68H612.79ZM614.78 404.34H617.18V407.14H614.78ZM616.78 406.50H619.17V409.30H616.78ZM618.77 406.88H621.16V409.68H618.77ZM620.76 406.69H623.15V409.49H620.76ZM622.75 406.69H625.15V409.49H622.75ZM624.75 406.41H627.14V409.21H624.75ZM626.74 406.22H629.13V409.02H626.74ZM628.73 405.09H631.12V407.89H628.73ZM630.72 405.28H633.12V408.08H630.72ZM632.72 405.75H635.11V408.55H632.72ZM634.71 406.88H637.10V409.68H634.71ZM636.70 405.28H639.10V408.08H636.70ZM638.70 406.41H641.09V409.21H638.70ZM640.69 407.16H643.08V409.96H640.69ZM642.68 405.56H645.07V408.36H642.68ZM644.67 408.66H647.07V411.46H644.67ZM646.67 406.88H649.06V409.68H646.67ZM648.66 405.56H651.05V408.36H648.66ZM650.65 408.75H653.05V411.55H650.65ZM652.65 408.10H655.04V410.89H652.65ZM654.64 405.56H657.03V408.36H654.64ZM656.63 407.72H659.02V410.52H656.63ZM658.62 407.72H661.02V410.52H658.62ZM660.62 406.69H663.01V409.49H660.62ZM662.61 406.88H665.00V409.68H662.61ZM664.60 408.10H667.00V410.89H664.60ZM666.60 409.03H668.99V411.83H666.60ZM668.59 408.10H670.98V410.89H668.59ZM670.58 407.81H672.97V410.61H670.58ZM672.57 406.41H674.97V409.21H672.57ZM674.57 406.88H676.96V409.68H674.57ZM676.56 408.10H678.95V410.89H676.56Z" fill="#0000ff"/>
<polyline points="499.40,400.68 499.80,400.80 500.20,400.92 500.60,401.04 500.99,401.16 501.39,401.28 501.79,401.40 502.19,401.52 502.59,401.64 502.99,401.76 503.39,401.88 503.78,402.00 504.18,402.12 504.58,402.24 504.98,402.36 505.38,402.48 505.78,402.60 506.18,402.72 506.57,402.84 506.97,402.96 507.37,403.08 507.77,403.20 508.17,403.32 508.57,403.44 508.97,403.56 509.36,403.68 509.76,403.80 510.16,403.92 510.56,404.03 510.96,404.15 511.36,404.26 511.76,404.37 512.15,404.48 512.55,404.58 512.95,404.68 513.35,404.78 513.75,404.87 514.15,404.95 514.55,405.03 514.94,405.10 515.34,405.17 515.74,405.23 516.14,405.28 516.54,405.33 516.94,405.37 517.34,405.40 517.73,405.43 518.13,405.45 518.53,405.46 518.93,405.46 519.33,405.46 519.73,405.45 520.13,405.43 520.52,405.41 520.92,405.38 521.32,405.34 521.72,405.29 522.12,405.23 522.52,405.17 522.92,405.10 523.31,405.03 523.71,404.94 524.11,404.85 524.51,404.76 524.91,404.65 525.31,404.54 525.70,404.42 526.10,404.28 526.50,404.14 526.90,403.98 527.30,403.82 527.70,403.63 528.10,403.43 528.49,403.22 528.89,402.99 529.29,402.74 529.69,402.48 530.09,402.19 530.49,401.89 530.89,401.58 531.28,401.26 531.68,400.93 532.08,400.59 532.48,400.25 532.88,399.91 533.28,399.56 533.68,399.22 534.07,398.88 534.47,398.54 534.87,398.21 535.27,397.89 535.67,397.58 536.07,397.27 536.47,396.97 536.86,396.68 537.26,396.40 537.66,396.13 538.06,395.87 538.46,395.62 538.86,395.38 539.26,395.14 539.65,394.93 540.05,394.72 540.45,394.53 540.85,394.35 541.25,394.18 541.65,394.03 542.05,393.89 542.44,393.77 542.84,393.67 543.24,393.59 543.64,393.52 544.04,393.47 544.44,393.45 544.84,393.44 545.23,393.45 545.63,393.48 546.03,393.53 546.43,393.60 546.83,393.68 547.23,393.78 547.63,393.89 548.02,394.02 548.42,394.16 548.82,394.32 549.22,394.49 549.62,394.67 550.02,394.86 550.42,395.06 550.81,395.27 551.21,395.49 551.61,395.72 552.01,395.95 552.41,396.19 552.81,396.43 553.21,396.68 553.60,396.93 554.00,397.18 554.40,397.43 554.80,397.68 555.20,397.93 555.60,398.17 556.00,398.42 556.39,398.67 556.79,398.91 557.19,399.15 557.59,399.39 557.99,399.62 558.39,399.85 558.79,400.08 559.18,400.30 559.58,400.52 559.98,400.74 560.38,400.95 560.78,401.15 561.18,401.35 561.58,401.54 561.97,401.73 562.37,401.91 562.77,402.09 563.17,402.25 563.57,402.42 563.97,402.57 564.37,402.72 564.76,402.86 565.16,403.00 565.56,403.13 565.96,403.26 566.36,403.38 566.76,403.49 567.16,403.61 567.55,403.72 567.95,403.83 568.35,403.94 568.75,404.04 569.15,404.15 569.55,404.26 569.95,404.36 570.34,404.47 570.74,404.57 571.14,404.67 571.54,404.78 571.94,404.88 572.34,404.97 572.74,405.07 573.13,405.16 573.53,405.24 573.93,405.33 574.33,405.41 574.73,405.48 575.13,405.55 575.52,405.62 575.92,405.68 576.32,405.74 576.72,405.80 577.12,405.86 577.52,405.91 577.92,405.97 578.31,406.02 578.71,406.07 579.11,406.12 579.51,406.17 579.91,406.22 580.31,406.27 580.71,406.32 581.10,406.37 581.50,406.41 581.90,406.46 582.30,406.50 582.70,406.55 583.10,406.59 583.50,406.63 583.89,406.66 584.29,406.70 584.69,406.73 585.09,406.76 585.49,406.79 585.89,406.82 586.29,406.84 586.68,406.86 587.08,406.88 587.48,406.90 587.88,406.92 588.28,406.93 588.68,406.95 589.08,406.96 589.47,406.98 589.87,406.99 590.27,407.00 590.67,407.01 591.07,407.01 591.47,407.02 591.87,407.03 592.26,407.04 592.66,407.04 593.06,407.05 593.46,407.05 593.86,407.05 594.26,407.06 594.66,407.06 595.05,407.06 595.45,407.07 595.85,407.07 596.25,407.07 596.65,407.07 597.05,407.07 597.45,407.07 597.84,407.06 598.24,407.06 598.64,407.06 599.04,407.06 599.44,407.05 599.84,407.05 600.24,407.04 600.63,407.04 601.03,407.03 601.43,407.02 601.83,407.02 602.23,407.01 602.63,407.00 603.03,407.00 603.42,406.99 603.82,406.98 604.22,406.98 604.62,406.97 605.02,406.97 605.42,406.96 605.82,406.96 606.21,406.96 606.61,406.95 607.01,406.95 607.41,406.95 607.81,406.95 608.21,406.95 608.61,406.96 609.00,406.96 609.40,406.97 609.80,406.98 610.20,406.98 610.60,406.99 611.00,407.01 611.40,407.02 611.79,407.03 612.19,407.04 612.59,407.06 612.99,407.07 613.39,407.09 613.79,407.11 614.19,407.12 614.58,407.14 614.98,407.16 615.38,407.18 615.78,407.20 616.18,407.21 616.58,407.23 616.98,407.25 617.37,407.27 617.77,407.29 618.17,407.30 618.57,407.32 618.97,407.34 619.37,407.35 619.77,407.37 620.16,407.38 620.56,407.40 620.96,407.41 621.36,407.43 621.76,407.44 622.16,407.45 622.56,407.46 622.95,407.47 623.35,407.49 623.75,407.50 624.15,407.51 624.55,407.52 624.95,407.53 625.34,407.54 625.74,407.55 626.14,407.56 626.54,407.56 626.94,407.57 627.34,407.58 627.74,407.59 628.13,407.60 628.53,407.60 628.93,407.61 629.33,407.62 629.73,407.63 630.13,407.63 630.53,407.64 630.92,407.65 631.32,407.66 631.72,407.66 632.12,407.67 632.52,407.68 632.92,407.68 633.32,407.69 633.71,407.70 634.11,407.71 634.51,407.71 634.91,407.72 635.31,407.73 635.71,407.74 636.11,407.74 636.50,407.75 636.90,407.76 637.30,407.77 637.70,407.78 638.10,407.79 638.50,407.80 638.90,407.81 639.29,407.82 639.69,407.83 640.09,407.84 640.49,407.85 640.89,407.86 641.29,407.87 641.69,407.88 642.08,407.90 642.48,407.91 642.88,407.92 643.28,407.93 643.68,407.95 644.08,407.96 644.48,407.97 644.87,407.99 645.27,408.00 645.67,408.02 646.07,408.03 646.47,408.04 646.87,408.06 647.27,408.07 647.66,408.09 648.06,408.10 648.46,408.12 648.86,408.14 649.26,408.15 649.66,408.17 650.06,408.18 650.45,408.20 650.85,408.22 651.25,408.23 651.65,408.25 652.05,408.27 652.45,408.28 652.85,408.30 653.24,408.32 653.64,408.33 654.04,408.35 654.44,408.37 654.84,408.38 655.24,408.40 655.64,408.42 656.03,408.44 656.43,408.45 656.83,408.47 657.23,408.49 657.63,408.51 658.03,408.52 658.43,408.54 658.82,408.56 659.22,408.57 659.62,408.59 660.02,408.61 660.42,408.63 660.82,408.64 661.22,408.66 661.61,408.68 662.01,408.69 662.41,408.71 662.81,408.73 663.21,408.75 663.61,408.76 664.01,408.78 664.40,408.80 664.80,408.81 665.20,408.83 665.60,408.85 666.00,408.86 666.40,408.88 666.80,408.90 667.19,408.92 667.59,408.93 667.99,408.95 668.39,408.97 668.79,408.98 669.19,409.00 669.59,409.02 669.98,409.03 670.38,409.05 670.78,409.07 671.18,409.08 671.58,409.10 671.98,409.12 672.38,409.13 672.77,409.15 673.17,409.17 673.57,409.18 673.97,409.20 674.37,409.22 674.77,409.23 675.16,409.25 675.56,409.27 675.96,409.28 676.36,409.30 676.76,409.32 677.16,409.33 677.56,409.35 677.95,409.37 678.35,409.38 678.75,409.40" stroke="#00ff00" stroke-width="2.6" fill="none" stroke-linejoin="round"/></g>
<rect x="499.40" y="308.20" width="179.35" height="112.55" stroke="#000" stroke-width="1.45" fill="none"/>
<path d="M499.40 420.75h5.0M499.40 416.06h2.5M499.40 411.37h2.5M499.40 406.68h2.5M499.40 401.99h5.0M499.40 397.30h2.5M499.40 392.61h2.5M499.40 387.92h2.5M499.40 383.23h5.0M499.40 378.54h2.5M499.40 373.85h2.5M499.40 369.16h2.5M499.40 364.48h5.0M499.40 359.79h2.5M499.40 355.10h2.5M499.40 350.41h2.5M499.40 345.72h5.0M499.40 341.03h2.5M499.40 336.34h2.5M499.40 331.65h2.5M499.40 326.96h5.0M499.40 322.27h2.5M499.40 317.58h2.5M499.40 312.89h2.5M499.40 308.20h5.0M509.36 420.75v-1.6M519.33 420.75v-3.2M529.29 420.75v-1.6M539.26 420.75v-1.6M549.22 420.75v-1.6M559.18 420.75v-3.2M569.15 420.75v-1.6M579.11 420.75v-1.6M589.08 420.75v-1.6M599.04 420.75v-3.2M609.00 420.75v-1.6M618.97 420.75v-1.6M628.93 420.75v-1.6M638.90 420.75v-3.2M648.86 420.75v-1.6M658.82 420.75v-1.6M668.79 420.75v-1.6" stroke="#000" stroke-width="1.2" fill="none"/>
<text x="489.12" y="425.05" font-size="12.2" font-family="Liberation Sans, sans-serif">0</text>
<text x="489.12" y="406.29" font-size="12.2" font-family="Liberation Sans, sans-serif">2</text>
<text x="489.12" y="387.53" font-size="12.2" font-family="Liberation Sans, sans-serif">4</text>
<text x="489.12" y="368.78" font-size="12.2" font-family="Liberation Sans, sans-serif">6</text>
<text x="489.12" y="350.02" font-size="12.2" font-family="Liberation Sans, sans-serif">8</text>
<path transform="translate(482.33 331.26) scale(12.2 -12.2)" d="M0.290 0L0.378 0L0.378 0.703L0.306 0.703C0.290 0.628 0.228 0.592 0.105 0.588L0.105 0.527L0.290 0.527Z"/>
<text x="489.12" y="331.26" font-size="12.2" font-family="Liberation Sans, sans-serif">0</text>
<path transform="translate(482.33 312.50) scale(12.2 -12.2)" d="M0.290 0L0.378 0L0.378 0.703L0.306 0.703C0.290 0.628 0.228 0.592 0.105 0.588L0.105 0.527L0.290 0.527Z"/>
<text x="489.12" y="312.50" font-size="12.2" font-family="Liberation Sans, sans-serif">2</text>
<text x="515.94" y="432.65" font-size="12.2" font-family="Liberation Sans, sans-serif">2</text>
<text x="555.79" y="432.65" font-size="12.2" font-family="Liberation Sans, sans-serif">4</text>
<text x="595.65" y="432.65" font-size="12.2" font-family="Liberation Sans, sans-serif">6</text>
<text x="635.50" y="432.65" font-size="12.2" font-family="Liberation Sans, sans-serif">8</text>
<path transform="translate(671.97 432.65) scale(12.2 -12.2)" d="M0.290 0L0.378 0L0.378 0.703L0.306 0.703C0.290 0.628 0.228 0.592 0.105 0.588L0.105 0.527L0.290 0.527Z"/>
<text x="678.75" y="432.65" font-size="12.2" font-family="Liberation Sans, sans-serif">0</text>
<text x="678.85" y="442.95" text-anchor="end" font-size="13.3" font-family="Liberation Sans, sans-serif">energy (keV)</text>
<text transform="translate(475.90 305.60) rotate(-90) scale(1 1.07)" text-anchor="end" font-size="13.25" font-family="Liberation Sans, sans-serif">Rate (c/keV/kg/day)</text>
<rect x="597.40" y="318.00" width="77.10" height="42.70" rx="0.8" fill="#fff" stroke="#000" stroke-width="1.1"/>
<path d="M600.60 328.70h13.4M607.20 322.10v13.2" stroke="#0000ff" stroke-width="1.9" fill="none"/>
<path d="M600.60 350.00h13.4" stroke="#00ff00" stroke-width="2.2" fill="none"/>
<text x="616.80" y="331.60" font-size="9.2" font-family="Liberation Sans, sans-serif">D8 data</text>
<text x="616.80" y="353.40" font-size="9.2" font-family="Liberation Sans, sans-serif">D8 sim</text>
</svg>
</body></html>
